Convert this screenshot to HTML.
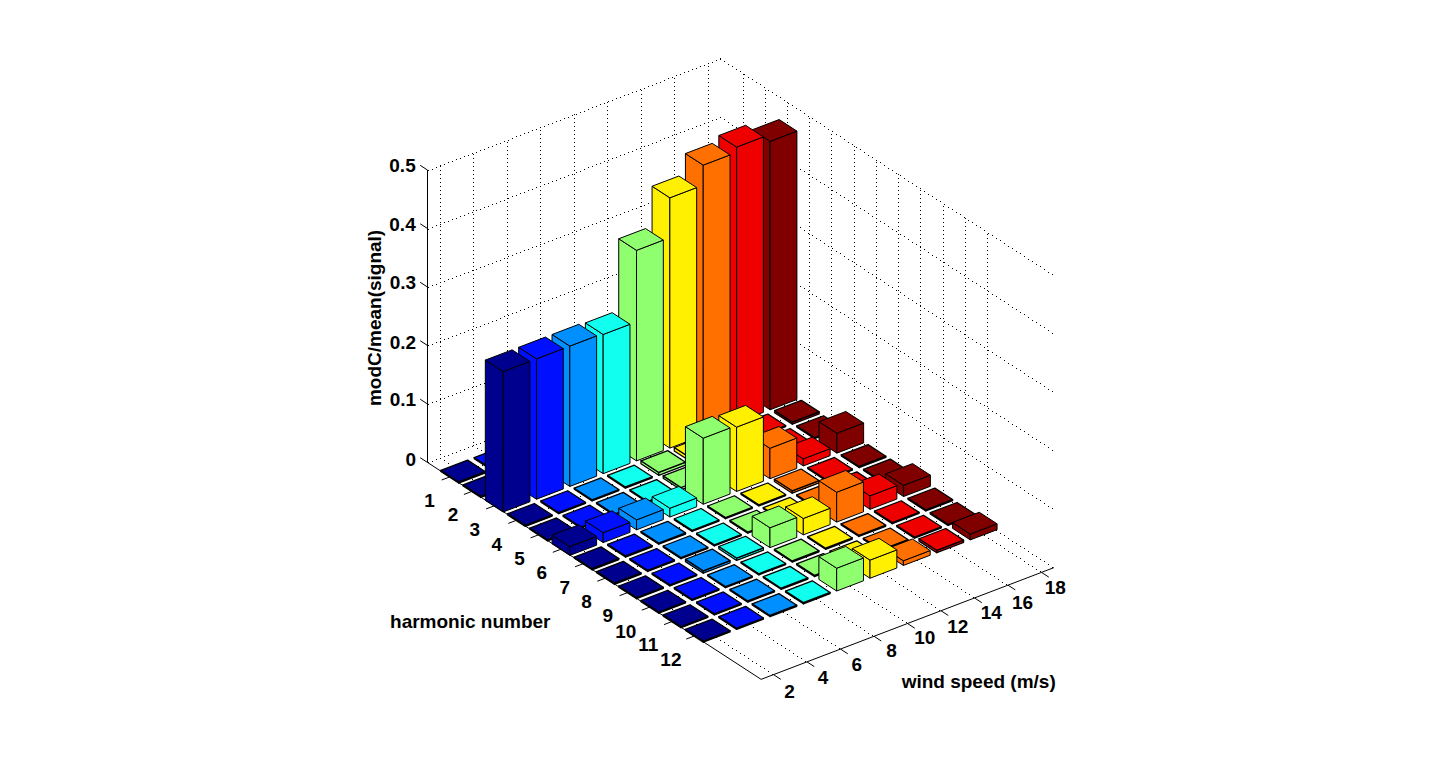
<!DOCTYPE html>
<html><head><meta charset="utf-8"><style>html,body{margin:0;padding:0;background:#fff;width:1432px;height:764px;overflow:hidden;position:relative}</style></head>
<body>
<svg width="1432" height="764" viewBox="0 0 1432 764" style="position:absolute;left:0;top:0">
<rect width="1432" height="764" fill="#fff"/>
<path d="M0 0m428 462h1v1h-1zm4-1h1v1h-1zm4-2h1v1h-1zm4-1h1v1h-1zm4-2h1v1h-1zm4-1h1v1h-1zm4-2h1v1h-1zm4-1h1v1h-1zm4-2h1v1h-1zm4-1h1v1h-1zm4-2h1v1h-1zm4-1h1v1h-1zm4-2h1v1h-1zm4-1h1v1h-1zm4-2h1v1h-1zm4-1h1v1h-1zm4-2h1v1h-1zm4-1h1v1h-1zm4-2h1v1h-1zm4-2h1v1h-1zm4-1h1v1h-1zm4-2h1v1h-1zm4-1h1v1h-1zm4-2h1v1h-1zm4-1h1v1h-1zm4-2h1v1h-1zm4-1h1v1h-1zm4-2h1v1h-1zm4-1h1v1h-1zm4-2h1v1h-1zm4-1h1v1h-1zm4-2h1v1h-1zm4-1h1v1h-1zm4-2h1v1h-1zm4-1h1v1h-1zm4-2h1v1h-1zm4-1h1v1h-1zm4-2h1v1h-1zm4-2h1v1h-1zm4-1h1v1h-1zm4-2h1v1h-1zm4-1h1v1h-1zm4-2h1v1h-1zm4-1h1v1h-1zm4-2h1v1h-1zm4-1h1v1h-1zm4-2h1v1h-1zm4-1h1v1h-1zm4-2h1v1h-1zm4-1h1v1h-1zm4-2h1v1h-1zm4-1h1v1h-1zm4-2h1v1h-1zm4-1h1v1h-1zm4-2h1v1h-1zm4-1h1v1h-1zm4-2h1v1h-1zm4-2h1v1h-1zm4-1h1v1h-1zm4-2h1v1h-1zm4-1h1v1h-1zm4-2h1v1h-1zm4-1h1v1h-1zm4-2h1v1h-1zm4-1h1v1h-1zm4-2h1v1h-1zm4-1h1v1h-1zm4-2h1v1h-1zm4-1h1v1h-1zm4-2h1v1h-1zm4-1h1v1h-1zm4-2h1v1h-1zm4-1h1v1h-1zm4-2h1v1h-1zm-292 53h1v1h-1zm4-2h1v1h-1zm4-1h1v1h-1zm4-2h1v1h-1zm4-1h1v1h-1zm4-2h1v1h-1zm4-1h1v1h-1zm4-2h1v1h-1zm4-1h1v1h-1zm4-2h1v1h-1zm4-1h1v1h-1zm4-2h1v1h-1zm4-1h1v1h-1zm4-2h1v1h-1zm4-1h1v1h-1zm4-2h1v1h-1zm4-1h1v1h-1zm4-2h1v1h-1zm4-1h1v1h-1zm4-2h1v1h-1zm4-2h1v1h-1zm4-1h1v1h-1zm4-2h1v1h-1zm4-1h1v1h-1zm4-2h1v1h-1zm4-1h1v1h-1zm4-2h1v1h-1zm4-1h1v1h-1zm4-2h1v1h-1zm4-1h1v1h-1zm4-2h1v1h-1zm4-1h1v1h-1zm4-2h1v1h-1zm4-1h1v1h-1zm4-2h1v1h-1zm4-1h1v1h-1zm4-2h1v1h-1zm4-1h1v1h-1zm4-2h1v1h-1zm4-2h1v1h-1zm4-1h1v1h-1zm4-2h1v1h-1zm4-1h1v1h-1zm4-2h1v1h-1zm4-1h1v1h-1zm4-2h1v1h-1zm4-1h1v1h-1zm4-2h1v1h-1zm4-1h1v1h-1zm4-2h1v1h-1zm4-1h1v1h-1zm4-2h1v1h-1zm4-1h1v1h-1zm4-2h1v1h-1zm4-1h1v1h-1zm4-2h1v1h-1zm4-1h1v1h-1zm4-2h1v1h-1zm4-2h1v1h-1zm4-1h1v1h-1zm4-2h1v1h-1zm4-1h1v1h-1zm4-2h1v1h-1zm4-1h1v1h-1zm4-2h1v1h-1zm4-1h1v1h-1zm4-2h1v1h-1zm4-1h1v1h-1zm4-2h1v1h-1zm4-1h1v1h-1zm4-2h1v1h-1zm4-1h1v1h-1zm4-2h1v1h-1zm4-1h1v1h-1zm-292 52h1v1h-1zm4-1h1v1h-1zm4-2h1v1h-1zm4-1h1v1h-1zm4-2h1v1h-1zm4-1h1v1h-1zm4-2h1v1h-1zm4-1h1v1h-1zm4-2h1v1h-1zm4-1h1v1h-1zm4-2h1v1h-1zm4-1h1v1h-1zm4-2h1v1h-1zm4-1h1v1h-1zm4-2h1v1h-1zm4-1h1v1h-1zm4-2h1v1h-1zm4-1h1v1h-1zm4-2h1v1h-1zm4-2h1v1h-1zm4-1h1v1h-1zm4-2h1v1h-1zm4-1h1v1h-1zm4-2h1v1h-1zm4-1h1v1h-1zm4-2h1v1h-1zm4-1h1v1h-1zm4-2h1v1h-1zm4-1h1v1h-1zm4-2h1v1h-1zm4-1h1v1h-1zm4-2h1v1h-1zm4-1h1v1h-1zm4-2h1v1h-1zm4-1h1v1h-1zm4-2h1v1h-1zm4-1h1v1h-1zm4-2h1v1h-1zm4-1h1v1h-1zm4-2h1v1h-1zm4-2h1v1h-1zm4-1h1v1h-1zm4-2h1v1h-1zm4-1h1v1h-1zm4-2h1v1h-1zm4-1h1v1h-1zm4-2h1v1h-1zm4-1h1v1h-1zm4-2h1v1h-1zm4-1h1v1h-1zm4-2h1v1h-1zm4-1h1v1h-1zm4-2h1v1h-1zm4-1h1v1h-1zm4-2h1v1h-1zm4-1h1v1h-1zm4-2h1v1h-1zm4-1h1v1h-1zm4-2h1v1h-1zm4-2h1v1h-1zm4-1h1v1h-1zm4-2h1v1h-1zm4-1h1v1h-1zm4-2h1v1h-1zm4-1h1v1h-1zm4-2h1v1h-1zm4-1h1v1h-1zm4-2h1v1h-1zm4-1h1v1h-1zm4-2h1v1h-1zm4-1h1v1h-1zm4-2h1v1h-1zm4-1h1v1h-1zm4-2h1v1h-1zm-292 53h1v1h-1zm4-2h1v1h-1zm4-1h1v1h-1zm4-2h1v1h-1zm4-1h1v1h-1zm4-2h1v1h-1zm4-1h1v1h-1zm4-2h1v1h-1zm4-1h1v1h-1zm4-2h1v1h-1zm4-1h1v1h-1zm4-2h1v1h-1zm4-1h1v1h-1zm4-2h1v1h-1zm4-1h1v1h-1zm4-2h1v1h-1zm4-1h1v1h-1zm4-2h1v1h-1zm4-1h1v1h-1zm4-2h1v1h-1zm4-2h1v1h-1zm4-1h1v1h-1zm4-2h1v1h-1zm4-1h1v1h-1zm4-2h1v1h-1zm4-1h1v1h-1zm4-2h1v1h-1zm4-1h1v1h-1zm4-2h1v1h-1zm4-1h1v1h-1zm4-2h1v1h-1zm4-1h1v1h-1zm4-2h1v1h-1zm4-1h1v1h-1zm4-2h1v1h-1zm4-1h1v1h-1zm4-2h1v1h-1zm4-1h1v1h-1zm4-2h1v1h-1zm4-2h1v1h-1zm4-1h1v1h-1zm4-2h1v1h-1zm4-1h1v1h-1zm4-2h1v1h-1zm4-1h1v1h-1zm4-2h1v1h-1zm4-1h1v1h-1zm4-2h1v1h-1zm4-1h1v1h-1zm4-2h1v1h-1zm4-1h1v1h-1zm4-2h1v1h-1zm4-1h1v1h-1zm4-2h1v1h-1zm4-1h1v1h-1zm4-2h1v1h-1zm4-1h1v1h-1zm4-2h1v1h-1zm4-1h1v1h-1zm4-2h1v1h-1zm4-2h1v1h-1zm4-1h1v1h-1zm4-2h1v1h-1zm4-1h1v1h-1zm4-2h1v1h-1zm4-1h1v1h-1zm4-2h1v1h-1zm4-1h1v1h-1zm4-2h1v1h-1zm4-1h1v1h-1zm4-2h1v1h-1zm4-1h1v1h-1zm4-2h1v1h-1zm4-1h1v1h-1zm-292 53h1v1h-1zm4-2h1v1h-1zm4-2h1v1h-1zm4-1h1v1h-1zm4-2h1v1h-1zm4-1h1v1h-1zm4-2h1v1h-1zm4-1h1v1h-1zm4-2h1v1h-1zm4-1h1v1h-1zm4-2h1v1h-1zm4-1h1v1h-1zm4-2h1v1h-1zm4-1h1v1h-1zm4-2h1v1h-1zm4-1h1v1h-1zm4-2h1v1h-1zm4-1h1v1h-1zm4-2h1v1h-1zm4-1h1v1h-1zm4-2h1v1h-1zm4-2h1v1h-1zm4-1h1v1h-1zm4-2h1v1h-1zm4-1h1v1h-1zm4-2h1v1h-1zm4-1h1v1h-1zm4-2h1v1h-1zm4-1h1v1h-1zm4-2h1v1h-1zm4-1h1v1h-1zm4-2h1v1h-1zm4-1h1v1h-1zm4-2h1v1h-1zm4-1h1v1h-1zm4-2h1v1h-1zm4-1h1v1h-1zm4-2h1v1h-1zm4-1h1v1h-1zm4-2h1v1h-1zm4-2h1v1h-1zm4-1h1v1h-1zm4-2h1v1h-1zm4-1h1v1h-1zm4-2h1v1h-1zm4-1h1v1h-1zm4-2h1v1h-1zm4-1h1v1h-1zm4-2h1v1h-1zm4-1h1v1h-1zm4-2h1v1h-1zm4-1h1v1h-1zm4-2h1v1h-1zm4-1h1v1h-1zm4-2h1v1h-1zm4-1h1v1h-1zm4-2h1v1h-1zm4-1h1v1h-1zm4-2h1v1h-1zm4-2h1v1h-1zm4-1h1v1h-1zm4-2h1v1h-1zm4-1h1v1h-1zm4-2h1v1h-1zm4-1h1v1h-1zm4-2h1v1h-1zm4-1h1v1h-1zm4-2h1v1h-1zm4-1h1v1h-1zm4-2h1v1h-1zm4-1h1v1h-1zm4-2h1v1h-1zm4-1h1v1h-1zm4-2h1v1h-1zm-292 53h1v1h-1zm4-1h1v1h-1zm4-2h1v1h-1zm4-2h1v1h-1zm4-1h1v1h-1zm4-2h1v1h-1zm4-1h1v1h-1zm4-2h1v1h-1zm4-1h1v1h-1zm4-2h1v1h-1zm4-1h1v1h-1zm4-2h1v1h-1zm4-1h1v1h-1zm4-2h1v1h-1zm4-1h1v1h-1zm4-2h1v1h-1zm4-1h1v1h-1zm4-2h1v1h-1zm4-1h1v1h-1zm4-2h1v1h-1zm4-1h1v1h-1zm4-2h1v1h-1zm4-2h1v1h-1zm4-1h1v1h-1zm4-2h1v1h-1zm4-1h1v1h-1zm4-2h1v1h-1zm4-1h1v1h-1zm4-2h1v1h-1zm4-1h1v1h-1zm4-2h1v1h-1zm4-1h1v1h-1zm4-2h1v1h-1zm4-1h1v1h-1zm4-2h1v1h-1zm4-1h1v1h-1zm4-2h1v1h-1zm4-1h1v1h-1zm4-2h1v1h-1zm4-1h1v1h-1zm4-2h1v1h-1zm4-2h1v1h-1zm4-1h1v1h-1zm4-2h1v1h-1zm4-1h1v1h-1zm4-2h1v1h-1zm4-1h1v1h-1zm4-2h1v1h-1zm4-1h1v1h-1zm4-2h1v1h-1zm4-1h1v1h-1zm4-2h1v1h-1zm4-1h1v1h-1zm4-2h1v1h-1zm4-1h1v1h-1zm4-2h1v1h-1zm4-1h1v1h-1zm4-2h1v1h-1zm4-1h1v1h-1zm4-2h1v1h-1zm4-2h1v1h-1zm4-1h1v1h-1zm4-2h1v1h-1zm4-1h1v1h-1zm4-2h1v1h-1zm4-1h1v1h-1zm4-2h1v1h-1zm4-1h1v1h-1zm4-2h1v1h-1zm4-1h1v1h-1zm4-2h1v1h-1zm4-1h1v1h-1zm4-2h1v1h-1zm4-1h1v1h-1zm4 294h1v1h-1zm4 3h1v1h-1zm4 3h1v1h-1zm4 2h1v1h-1zm4 3h1v1h-1zm4 2h1v1h-1zm4 3h1v1h-1zm4 3h1v1h-1zm4 2h1v1h-1zm4 3h1v1h-1zm4 2h1v1h-1zm4 3h1v1h-1zm4 3h1v1h-1zm4 2h1v1h-1zm4 3h1v1h-1zm4 2h1v1h-1zm4 3h1v1h-1zm4 3h1v1h-1zm4 2h1v1h-1zm4 3h1v1h-1zm4 2h1v1h-1zm4 3h1v1h-1zm4 3h1v1h-1zm4 2h1v1h-1zm4 3h1v1h-1zm4 2h1v1h-1zm4 3h1v1h-1zm4 3h1v1h-1zm4 2h1v1h-1zm4 3h1v1h-1zm4 2h1v1h-1zm4 3h1v1h-1zm4 3h1v1h-1zm4 2h1v1h-1zm4 3h1v1h-1zm4 2h1v1h-1zm4 3h1v1h-1zm4 3h1v1h-1zm4 2h1v1h-1zm4 3h1v1h-1zm4 2h1v1h-1zm4 3h1v1h-1zm4 3h1v1h-1zm4 2h1v1h-1zm4 3h1v1h-1zm4 2h1v1h-1zm4 3h1v1h-1zm4 3h1v1h-1zm4 2h1v1h-1zm4 3h1v1h-1zm4 2h1v1h-1zm4 3h1v1h-1zm4 3h1v1h-1zm4 2h1v1h-1zm4 3h1v1h-1zm4 2h1v1h-1zm4 3h1v1h-1zm4 3h1v1h-1zm4 2h1v1h-1zm4 3h1v1h-1zm4 2h1v1h-1zm4 3h1v1h-1zm4 3h1v1h-1zm4 2h1v1h-1zm4 3h1v1h-1zm4 2h1v1h-1zm4 3h1v1h-1zm4 3h1v1h-1zm4 2h1v1h-1zm4 3h1v1h-1zm4 2h1v1h-1zm4 3h1v1h-1zm4 3h1v1h-1zm4 2h1v1h-1zm4 3h1v1h-1zm4 2h1v1h-1zm4 3h1v1h-1zm4 3h1v1h-1zm4 2h1v1h-1zm4 3h1v1h-1zm4 2h1v1h-1zm4 3h1v1h-1zm4 3h1v1h-1zm-332-275h1v1h-1zm4 3h1v1h-1zm4 2h1v1h-1zm4 3h1v1h-1zm4 3h1v1h-1zm4 2h1v1h-1zm4 3h1v1h-1zm4 2h1v1h-1zm4 3h1v1h-1zm4 3h1v1h-1zm4 2h1v1h-1zm4 3h1v1h-1zm4 2h1v1h-1zm4 3h1v1h-1zm4 3h1v1h-1zm4 2h1v1h-1zm4 3h1v1h-1zm4 2h1v1h-1zm4 3h1v1h-1zm4 3h1v1h-1zm4 2h1v1h-1zm4 3h1v1h-1zm4 2h1v1h-1zm4 3h1v1h-1zm4 3h1v1h-1zm4 2h1v1h-1zm4 3h1v1h-1zm4 2h1v1h-1zm4 3h1v1h-1zm4 3h1v1h-1zm4 2h1v1h-1zm4 3h1v1h-1zm4 2h1v1h-1zm4 3h1v1h-1zm4 3h1v1h-1zm4 2h1v1h-1zm4 3h1v1h-1zm4 2h1v1h-1zm4 3h1v1h-1zm4 3h1v1h-1zm4 2h1v1h-1zm4 3h1v1h-1zm4 3h1v1h-1zm4 2h1v1h-1zm4 3h1v1h-1zm4 2h1v1h-1zm4 3h1v1h-1zm4 3h1v1h-1zm4 2h1v1h-1zm4 3h1v1h-1zm4 2h1v1h-1zm4 3h1v1h-1zm4 3h1v1h-1zm4 2h1v1h-1zm4 3h1v1h-1zm4 2h1v1h-1zm4 3h1v1h-1zm4 3h1v1h-1zm4 2h1v1h-1zm4 3h1v1h-1zm4 2h1v1h-1zm4 3h1v1h-1zm4 3h1v1h-1zm4 2h1v1h-1zm4 3h1v1h-1zm4 2h1v1h-1zm4 3h1v1h-1zm4 3h1v1h-1zm4 2h1v1h-1zm4 3h1v1h-1zm4 2h1v1h-1zm4 3h1v1h-1zm4 3h1v1h-1zm4 2h1v1h-1zm4 3h1v1h-1zm4 2h1v1h-1zm4 3h1v1h-1zm4 3h1v1h-1zm4 2h1v1h-1zm4 3h1v1h-1zm4 2h1v1h-1zm4 3h1v1h-1zm4 3h1v1h-1zm4 2h1v1h-1zm-328-272h1v1h-1zm4 3h1v1h-1zm4 3h1v1h-1zm4 2h1v1h-1zm4 3h1v1h-1zm4 2h1v1h-1zm4 3h1v1h-1zm4 3h1v1h-1zm4 2h1v1h-1zm4 3h1v1h-1zm4 2h1v1h-1zm4 3h1v1h-1zm4 3h1v1h-1zm4 2h1v1h-1zm4 3h1v1h-1zm4 2h1v1h-1zm4 3h1v1h-1zm4 3h1v1h-1zm4 2h1v1h-1zm4 3h1v1h-1zm4 2h1v1h-1zm4 3h1v1h-1zm4 3h1v1h-1zm4 2h1v1h-1zm4 3h1v1h-1zm4 2h1v1h-1zm4 3h1v1h-1zm4 3h1v1h-1zm4 2h1v1h-1zm4 3h1v1h-1zm4 2h1v1h-1zm4 3h1v1h-1zm4 3h1v1h-1zm4 2h1v1h-1zm4 3h1v1h-1zm4 2h1v1h-1zm4 3h1v1h-1zm4 3h1v1h-1zm4 2h1v1h-1zm4 3h1v1h-1zm4 2h1v1h-1zm4 3h1v1h-1zm4 3h1v1h-1zm4 2h1v1h-1zm4 3h1v1h-1zm4 2h1v1h-1zm4 3h1v1h-1zm4 3h1v1h-1zm4 2h1v1h-1zm4 3h1v1h-1zm4 2h1v1h-1zm4 3h1v1h-1zm4 3h1v1h-1zm4 2h1v1h-1zm4 3h1v1h-1zm4 2h1v1h-1zm4 3h1v1h-1zm4 3h1v1h-1zm4 2h1v1h-1zm4 3h1v1h-1zm4 2h1v1h-1zm4 3h1v1h-1zm4 3h1v1h-1zm4 2h1v1h-1zm4 3h1v1h-1zm4 2h1v1h-1zm4 3h1v1h-1zm4 3h1v1h-1zm4 2h1v1h-1zm4 3h1v1h-1zm4 2h1v1h-1zm4 3h1v1h-1zm4 3h1v1h-1zm4 2h1v1h-1zm4 3h1v1h-1zm4 2h1v1h-1zm4 3h1v1h-1zm4 3h1v1h-1zm4 2h1v1h-1zm4 3h1v1h-1zm4 2h1v1h-1zm4 3h1v1h-1zm4 3h1v1h-1zm-332-275h1v1h-1zm4 3h1v1h-1zm4 3h1v1h-1zm4 2h1v1h-1zm4 3h1v1h-1zm4 2h1v1h-1zm4 3h1v1h-1zm4 3h1v1h-1zm4 2h1v1h-1zm4 3h1v1h-1zm4 2h1v1h-1zm4 3h1v1h-1zm4 3h1v1h-1zm4 2h1v1h-1zm4 3h1v1h-1zm4 2h1v1h-1zm4 3h1v1h-1zm4 3h1v1h-1zm4 2h1v1h-1zm4 3h1v1h-1zm4 2h1v1h-1zm4 3h1v1h-1zm4 3h1v1h-1zm4 2h1v1h-1zm4 3h1v1h-1zm4 2h1v1h-1zm4 3h1v1h-1zm4 3h1v1h-1zm4 2h1v1h-1zm4 3h1v1h-1zm4 2h1v1h-1zm4 3h1v1h-1zm4 3h1v1h-1zm4 2h1v1h-1zm4 3h1v1h-1zm4 2h1v1h-1zm4 3h1v1h-1zm4 3h1v1h-1zm4 2h1v1h-1zm4 3h1v1h-1zm4 2h1v1h-1zm4 3h1v1h-1zm4 3h1v1h-1zm4 2h1v1h-1zm4 3h1v1h-1zm4 2h1v1h-1zm4 3h1v1h-1zm4 3h1v1h-1zm4 2h1v1h-1zm4 3h1v1h-1zm4 2h1v1h-1zm4 3h1v1h-1zm4 3h1v1h-1zm4 2h1v1h-1zm4 3h1v1h-1zm4 2h1v1h-1zm4 3h1v1h-1zm4 3h1v1h-1zm4 2h1v1h-1zm4 3h1v1h-1zm4 2h1v1h-1zm4 3h1v1h-1zm4 3h1v1h-1zm4 2h1v1h-1zm4 3h1v1h-1zm4 2h1v1h-1zm4 3h1v1h-1zm4 3h1v1h-1zm4 2h1v1h-1zm4 3h1v1h-1zm4 2h1v1h-1zm4 3h1v1h-1zm4 3h1v1h-1zm4 2h1v1h-1zm4 3h1v1h-1zm4 2h1v1h-1zm4 3h1v1h-1zm4 3h1v1h-1zm4 2h1v1h-1zm4 3h1v1h-1zm4 2h1v1h-1zm4 3h1v1h-1zm4 3h1v1h-1zm4 2h1v1h-1zm-328-272h1v1h-1zm4 3h1v1h-1zm4 3h1v1h-1zm4 2h1v1h-1zm4 3h1v1h-1zm4 2h1v1h-1zm4 3h1v1h-1zm4 3h1v1h-1zm4 2h1v1h-1zm4 3h1v1h-1zm4 2h1v1h-1zm4 3h1v1h-1zm4 3h1v1h-1zm4 2h1v1h-1zm4 3h1v1h-1zm4 2h1v1h-1zm4 3h1v1h-1zm4 3h1v1h-1zm4 2h1v1h-1zm4 3h1v1h-1zm4 2h1v1h-1zm4 3h1v1h-1zm4 3h1v1h-1zm4 2h1v1h-1zm4 3h1v1h-1zm4 2h1v1h-1zm4 3h1v1h-1zm4 3h1v1h-1zm4 2h1v1h-1zm4 3h1v1h-1zm4 2h1v1h-1zm4 3h1v1h-1zm4 3h1v1h-1zm4 2h1v1h-1zm4 3h1v1h-1zm4 2h1v1h-1zm4 3h1v1h-1zm4 3h1v1h-1zm4 2h1v1h-1zm4 3h1v1h-1zm4 2h1v1h-1zm4 3h1v1h-1zm4 3h1v1h-1zm4 2h1v1h-1zm4 3h1v1h-1zm4 2h1v1h-1zm4 3h1v1h-1zm4 3h1v1h-1zm4 2h1v1h-1zm4 3h1v1h-1zm4 2h1v1h-1zm4 3h1v1h-1zm4 3h1v1h-1zm4 2h1v1h-1zm4 3h1v1h-1zm4 2h1v1h-1zm4 3h1v1h-1zm4 3h1v1h-1zm4 2h1v1h-1zm4 3h1v1h-1zm4 2h1v1h-1zm4 3h1v1h-1zm4 3h1v1h-1zm4 2h1v1h-1zm4 3h1v1h-1zm4 2h1v1h-1zm4 3h1v1h-1zm4 3h1v1h-1zm4 2h1v1h-1zm4 3h1v1h-1zm4 2h1v1h-1zm4 3h1v1h-1zm4 3h1v1h-1zm4 2h1v1h-1zm4 3h1v1h-1zm4 2h1v1h-1zm4 3h1v1h-1zm4 3h1v1h-1zm4 2h1v1h-1zm4 3h1v1h-1zm4 2h1v1h-1zm4 3h1v1h-1zm4 3h1v1h-1zm-332-275h1v1h-1zm4 3h1v1h-1zm4 3h1v1h-1zm4 2h1v1h-1zm4 3h1v1h-1zm4 2h1v1h-1zm4 3h1v1h-1zm4 3h1v1h-1zm4 2h1v1h-1zm4 3h1v1h-1zm4 2h1v1h-1zm4 3h1v1h-1zm4 3h1v1h-1zm4 2h1v1h-1zm4 3h1v1h-1zm4 2h1v1h-1zm4 3h1v1h-1zm4 3h1v1h-1zm4 2h1v1h-1zm4 3h1v1h-1zm4 2h1v1h-1zm4 3h1v1h-1zm4 3h1v1h-1zm4 2h1v1h-1zm4 3h1v1h-1zm4 2h1v1h-1zm4 3h1v1h-1zm4 3h1v1h-1zm4 2h1v1h-1zm4 3h1v1h-1zm4 2h1v1h-1zm4 3h1v1h-1zm4 3h1v1h-1zm4 2h1v1h-1zm4 3h1v1h-1zm4 2h1v1h-1zm4 3h1v1h-1zm4 3h1v1h-1zm4 2h1v1h-1zm4 3h1v1h-1zm4 2h1v1h-1zm4 3h1v1h-1zm4 3h1v1h-1zm4 2h1v1h-1zm4 3h1v1h-1zm4 2h1v1h-1zm4 3h1v1h-1zm4 3h1v1h-1zm4 2h1v1h-1zm4 3h1v1h-1zm4 2h1v1h-1zm4 3h1v1h-1zm4 3h1v1h-1zm4 2h1v1h-1zm4 3h1v1h-1zm4 2h1v1h-1zm4 3h1v1h-1zm4 3h1v1h-1zm4 2h1v1h-1zm4 3h1v1h-1zm4 2h1v1h-1zm4 3h1v1h-1zm4 3h1v1h-1zm4 2h1v1h-1zm4 3h1v1h-1zm4 2h1v1h-1zm4 3h1v1h-1zm4 3h1v1h-1zm4 2h1v1h-1zm4 3h1v1h-1zm4 2h1v1h-1zm4 3h1v1h-1zm4 3h1v1h-1zm4 2h1v1h-1zm4 3h1v1h-1zm4 2h1v1h-1zm4 3h1v1h-1zm4 3h1v1h-1zm4 2h1v1h-1zm4 3h1v1h-1zm4 2h1v1h-1zm4 3h1v1h-1zm4 3h1v1h-1zm4 2h1v1h-1zm-608 186h1v1h-1zm4 3h1v1h-1zm4 3h1v1h-1zm4 2h1v1h-1zm4 3h1v1h-1zm4 2h1v1h-1zm4 3h1v1h-1zm4 3h1v1h-1zm4 2h1v1h-1zm4 3h1v1h-1zm4 2h1v1h-1zm4 3h1v1h-1zm4 3h1v1h-1zm4 2h1v1h-1zm4 3h1v1h-1zm4 2h1v1h-1zm4 3h1v1h-1zm4 3h1v1h-1zm4 2h1v1h-1zm4 3h1v1h-1zm4 2h1v1h-1zm4 3h1v1h-1zm4 3h1v1h-1zm4 2h1v1h-1zm4 3h1v1h-1zm4 2h1v1h-1zm4 3h1v1h-1zm4 3h1v1h-1zm4 2h1v1h-1zm4 3h1v1h-1zm4 2h1v1h-1zm4 3h1v1h-1zm4 3h1v1h-1zm4 2h1v1h-1zm4 3h1v1h-1zm4 2h1v1h-1zm4 3h1v1h-1zm4 3h1v1h-1zm4 2h1v1h-1zm4 3h1v1h-1zm4 2h1v1h-1zm4 3h1v1h-1zm4 3h1v1h-1zm4 2h1v1h-1zm4 3h1v1h-1zm4 2h1v1h-1zm4 3h1v1h-1zm4 3h1v1h-1zm4 2h1v1h-1zm4 3h1v1h-1zm4 2h1v1h-1zm4 3h1v1h-1zm4 3h1v1h-1zm4 2h1v1h-1zm4 3h1v1h-1zm4 2h1v1h-1zm4 3h1v1h-1zm4 3h1v1h-1zm4 2h1v1h-1zm4 3h1v1h-1zm4 2h1v1h-1zm4 3h1v1h-1zm4 3h1v1h-1zm4 2h1v1h-1zm4 3h1v1h-1zm4 2h1v1h-1zm4 3h1v1h-1zm4 3h1v1h-1zm4 2h1v1h-1zm4 3h1v1h-1zm4 2h1v1h-1zm4 3h1v1h-1zm4 3h1v1h-1zm4 2h1v1h-1zm4 3h1v1h-1zm4 2h1v1h-1zm4 3h1v1h-1zm4 3h1v1h-1zm4 2h1v1h-1zm4 3h1v1h-1zm4 2h1v1h-1zm4 3h1v1h-1zm4 3h1v1h-1zm-299-229h1v1h-1zm4 3h1v1h-1zm4 2h1v1h-1zm4 3h1v1h-1zm4 2h1v1h-1zm4 3h1v1h-1zm4 3h1v1h-1zm4 2h1v1h-1zm4 3h1v1h-1zm4 2h1v1h-1zm4 3h1v1h-1zm4 3h1v1h-1zm4 2h1v1h-1zm4 3h1v1h-1zm4 2h1v1h-1zm4 3h1v1h-1zm4 3h1v1h-1zm4 2h1v1h-1zm4 3h1v1h-1zm4 2h1v1h-1zm4 3h1v1h-1zm4 3h1v1h-1zm4 2h1v1h-1zm4 3h1v1h-1zm4 2h1v1h-1zm4 3h1v1h-1zm4 3h1v1h-1zm4 2h1v1h-1zm4 3h1v1h-1zm4 2h1v1h-1zm4 3h1v1h-1zm4 3h1v1h-1zm4 2h1v1h-1zm4 3h1v1h-1zm4 2h1v1h-1zm4 3h1v1h-1zm4 3h1v1h-1zm4 2h1v1h-1zm4 3h1v1h-1zm4 2h1v1h-1zm4 3h1v1h-1zm4 3h1v1h-1zm4 2h1v1h-1zm4 3h1v1h-1zm4 2h1v1h-1zm4 3h1v1h-1zm4 3h1v1h-1zm4 2h1v1h-1zm4 3h1v1h-1zm4 2h1v1h-1zm4 3h1v1h-1zm4 3h1v1h-1zm4 2h1v1h-1zm4 3h1v1h-1zm4 2h1v1h-1zm4 3h1v1h-1zm4 3h1v1h-1zm4 2h1v1h-1zm4 3h1v1h-1zm4 2h1v1h-1zm4 3h1v1h-1zm4 3h1v1h-1zm4 2h1v1h-1zm4 3h1v1h-1zm4 2h1v1h-1zm4 3h1v1h-1zm4 3h1v1h-1zm4 2h1v1h-1zm4 3h1v1h-1zm4 2h1v1h-1zm4 3h1v1h-1zm4 3h1v1h-1zm4 2h1v1h-1zm4 3h1v1h-1zm4 2h1v1h-1zm4 3h1v1h-1zm4 3h1v1h-1zm4 2h1v1h-1zm4 3h1v1h-1zm4 2h1v1h-1zm4 3h1v1h-1zm4 3h1v1h-1zm4 2h1v1h-1zm4 3h1v1h-1zm-298-229h1v1h-1zm4 3h1v1h-1zm4 2h1v1h-1zm4 3h1v1h-1zm4 3h1v1h-1zm4 2h1v1h-1zm4 3h1v1h-1zm4 2h1v1h-1zm4 3h1v1h-1zm4 3h1v1h-1zm4 2h1v1h-1zm4 3h1v1h-1zm4 2h1v1h-1zm4 3h1v1h-1zm4 3h1v1h-1zm4 2h1v1h-1zm4 3h1v1h-1zm4 2h1v1h-1zm4 3h1v1h-1zm4 3h1v1h-1zm4 2h1v1h-1zm4 3h1v1h-1zm4 2h1v1h-1zm4 3h1v1h-1zm4 3h1v1h-1zm4 2h1v1h-1zm4 3h1v1h-1zm4 2h1v1h-1zm4 3h1v1h-1zm4 3h1v1h-1zm4 2h1v1h-1zm4 3h1v1h-1zm4 2h1v1h-1zm4 3h1v1h-1zm4 3h1v1h-1zm4 2h1v1h-1zm4 3h1v1h-1zm4 2h1v1h-1zm4 3h1v1h-1zm4 3h1v1h-1zm4 2h1v1h-1zm4 3h1v1h-1zm4 2h1v1h-1zm4 3h1v1h-1zm4 3h1v1h-1zm4 2h1v1h-1zm4 3h1v1h-1zm4 2h1v1h-1zm4 3h1v1h-1zm4 3h1v1h-1zm4 2h1v1h-1zm4 3h1v1h-1zm4 2h1v1h-1zm4 3h1v1h-1zm4 3h1v1h-1zm4 2h1v1h-1zm4 3h1v1h-1zm4 2h1v1h-1zm4 3h1v1h-1zm4 3h1v1h-1zm4 2h1v1h-1zm4 3h1v1h-1zm4 2h1v1h-1zm4 3h1v1h-1zm4 3h1v1h-1zm4 2h1v1h-1zm4 3h1v1h-1zm4 2h1v1h-1zm4 3h1v1h-1zm4 3h1v1h-1zm4 2h1v1h-1zm4 3h1v1h-1zm4 2h1v1h-1zm4 3h1v1h-1zm4 3h1v1h-1zm4 2h1v1h-1zm4 3h1v1h-1zm4 2h1v1h-1zm4 3h1v1h-1zm4 3h1v1h-1zm4 2h1v1h-1zm4 3h1v1h-1zm4 2h1v1h-1zm4 3h1v1h-1zm-299-229h1v1h-1zm4 3h1v1h-1zm4 3h1v1h-1zm4 2h1v1h-1zm4 3h1v1h-1zm4 2h1v1h-1zm4 3h1v1h-1zm4 3h1v1h-1zm4 2h1v1h-1zm4 3h1v1h-1zm4 2h1v1h-1zm4 3h1v1h-1zm4 3h1v1h-1zm4 2h1v1h-1zm4 3h1v1h-1zm4 2h1v1h-1zm4 3h1v1h-1zm4 3h1v1h-1zm4 2h1v1h-1zm4 3h1v1h-1zm4 2h1v1h-1zm4 3h1v1h-1zm4 3h1v1h-1zm4 2h1v1h-1zm4 3h1v1h-1zm4 2h1v1h-1zm4 3h1v1h-1zm4 3h1v1h-1zm4 2h1v1h-1zm4 3h1v1h-1zm4 2h1v1h-1zm4 3h1v1h-1zm4 3h1v1h-1zm4 2h1v1h-1zm4 3h1v1h-1zm4 2h1v1h-1zm4 3h1v1h-1zm4 3h1v1h-1zm4 2h1v1h-1zm4 3h1v1h-1zm4 2h1v1h-1zm4 3h1v1h-1zm4 3h1v1h-1zm4 2h1v1h-1zm4 3h1v1h-1zm4 2h1v1h-1zm4 3h1v1h-1zm4 3h1v1h-1zm4 2h1v1h-1zm4 3h1v1h-1zm4 2h1v1h-1zm4 3h1v1h-1zm4 3h1v1h-1zm4 2h1v1h-1zm4 3h1v1h-1zm4 2h1v1h-1zm4 3h1v1h-1zm4 3h1v1h-1zm4 2h1v1h-1zm4 3h1v1h-1zm4 2h1v1h-1zm4 3h1v1h-1zm4 3h1v1h-1zm4 2h1v1h-1zm4 3h1v1h-1zm4 2h1v1h-1zm4 3h1v1h-1zm4 3h1v1h-1zm4 2h1v1h-1zm4 3h1v1h-1zm4 2h1v1h-1zm4 3h1v1h-1zm4 3h1v1h-1zm4 2h1v1h-1zm4 3h1v1h-1zm4 2h1v1h-1zm4 3h1v1h-1zm4 3h1v1h-1zm4 2h1v1h-1zm4 3h1v1h-1zm4 2h1v1h-1zm4 3h1v1h-1zm4 3h1v1h-1zm4 2h1v1h-1zm-298-228h1v1h-1zm4 2h1v1h-1zm4 3h1v1h-1zm4 2h1v1h-1zm4 3h1v1h-1zm4 3h1v1h-1zm4 2h1v1h-1zm4 3h1v1h-1zm4 2h1v1h-1zm4 3h1v1h-1zm4 3h1v1h-1zm4 2h1v1h-1zm4 3h1v1h-1zm4 2h1v1h-1zm4 3h1v1h-1zm4 3h1v1h-1zm4 2h1v1h-1zm4 3h1v1h-1zm4 2h1v1h-1zm4 3h1v1h-1zm4 3h1v1h-1zm4 2h1v1h-1zm4 3h1v1h-1zm4 2h1v1h-1zm4 3h1v1h-1zm4 3h1v1h-1zm4 2h1v1h-1zm4 3h1v1h-1zm4 2h1v1h-1zm4 3h1v1h-1zm4 3h1v1h-1zm4 2h1v1h-1zm4 3h1v1h-1zm4 2h1v1h-1zm4 3h1v1h-1zm4 3h1v1h-1zm4 2h1v1h-1zm4 3h1v1h-1zm4 2h1v1h-1zm4 3h1v1h-1zm4 3h1v1h-1zm4 2h1v1h-1zm4 3h1v1h-1zm4 2h1v1h-1zm4 3h1v1h-1zm4 3h1v1h-1zm4 2h1v1h-1zm4 3h1v1h-1zm4 2h1v1h-1zm4 3h1v1h-1zm4 3h1v1h-1zm4 2h1v1h-1zm4 3h1v1h-1zm4 2h1v1h-1zm4 3h1v1h-1zm4 3h1v1h-1zm4 2h1v1h-1zm4 3h1v1h-1zm4 2h1v1h-1zm4 3h1v1h-1zm4 3h1v1h-1zm4 2h1v1h-1zm4 3h1v1h-1zm4 2h1v1h-1zm4 3h1v1h-1zm4 3h1v1h-1zm4 2h1v1h-1zm4 3h1v1h-1zm4 2h1v1h-1zm4 3h1v1h-1zm4 3h1v1h-1zm4 2h1v1h-1zm4 3h1v1h-1zm4 2h1v1h-1zm4 3h1v1h-1zm4 3h1v1h-1zm4 2h1v1h-1zm4 3h1v1h-1zm4 2h1v1h-1zm4 3h1v1h-1zm4 3h1v1h-1zm4 2h1v1h-1zm4 3h1v1h-1zm4 2h1v1h-1zm-299-228h1v1h-1zm4 2h1v1h-1zm4 3h1v1h-1zm4 3h1v1h-1zm4 2h1v1h-1zm4 3h1v1h-1zm4 2h1v1h-1zm4 3h1v1h-1zm4 3h1v1h-1zm4 2h1v1h-1zm4 3h1v1h-1zm4 2h1v1h-1zm4 3h1v1h-1zm4 3h1v1h-1zm4 2h1v1h-1zm4 3h1v1h-1zm4 2h1v1h-1zm4 3h1v1h-1zm4 3h1v1h-1zm4 2h1v1h-1zm4 3h1v1h-1zm4 2h1v1h-1zm4 3h1v1h-1zm4 3h1v1h-1zm4 2h1v1h-1zm4 3h1v1h-1zm4 2h1v1h-1zm4 3h1v1h-1zm4 3h1v1h-1zm4 2h1v1h-1zm4 3h1v1h-1zm4 2h1v1h-1zm4 3h1v1h-1zm4 3h1v1h-1zm4 2h1v1h-1zm4 3h1v1h-1zm4 2h1v1h-1zm4 3h1v1h-1zm4 3h1v1h-1zm4 2h1v1h-1zm4 3h1v1h-1zm4 2h1v1h-1zm4 3h1v1h-1zm4 3h1v1h-1zm4 2h1v1h-1zm4 3h1v1h-1zm4 2h1v1h-1zm4 3h1v1h-1zm4 3h1v1h-1zm4 2h1v1h-1zm4 3h1v1h-1zm4 2h1v1h-1zm4 3h1v1h-1zm4 3h1v1h-1zm4 2h1v1h-1zm4 3h1v1h-1zm4 2h1v1h-1zm4 3h1v1h-1zm4 3h1v1h-1zm4 2h1v1h-1zm4 3h1v1h-1zm4 2h1v1h-1zm4 3h1v1h-1zm4 3h1v1h-1zm4 2h1v1h-1zm4 3h1v1h-1zm4 2h1v1h-1zm4 3h1v1h-1zm4 3h1v1h-1zm4 2h1v1h-1zm4 3h1v1h-1zm4 2h1v1h-1zm4 3h1v1h-1zm4 3h1v1h-1zm4 2h1v1h-1zm4 3h1v1h-1zm4 2h1v1h-1zm4 3h1v1h-1zm4 3h1v1h-1zm4 2h1v1h-1zm4 3h1v1h-1zm4 2h1v1h-1zm4 3h1v1h-1zm4 3h1v1h-1zm-298-229h1v1h-1zm4 3h1v1h-1zm4 2h1v1h-1zm4 3h1v1h-1zm4 2h1v1h-1zm4 3h1v1h-1zm4 3h1v1h-1zm4 2h1v1h-1zm4 3h1v1h-1zm4 2h1v1h-1zm4 3h1v1h-1zm4 3h1v1h-1zm4 2h1v1h-1zm4 3h1v1h-1zm4 2h1v1h-1zm4 3h1v1h-1zm4 3h1v1h-1zm4 2h1v1h-1zm4 3h1v1h-1zm4 2h1v1h-1zm4 3h1v1h-1zm4 3h1v1h-1zm4 2h1v1h-1zm4 3h1v1h-1zm4 2h1v1h-1zm4 3h1v1h-1zm4 3h1v1h-1zm4 2h1v1h-1zm4 3h1v1h-1zm4 2h1v1h-1zm4 3h1v1h-1zm4 3h1v1h-1zm4 2h1v1h-1zm4 3h1v1h-1zm4 2h1v1h-1zm4 3h1v1h-1zm4 3h1v1h-1zm4 2h1v1h-1zm4 3h1v1h-1zm4 2h1v1h-1zm4 3h1v1h-1zm4 3h1v1h-1zm4 2h1v1h-1zm4 3h1v1h-1zm4 2h1v1h-1zm4 3h1v1h-1zm4 3h1v1h-1zm4 2h1v1h-1zm4 3h1v1h-1zm4 2h1v1h-1zm4 3h1v1h-1zm4 3h1v1h-1zm4 2h1v1h-1zm4 3h1v1h-1zm4 2h1v1h-1zm4 3h1v1h-1zm4 3h1v1h-1zm4 2h1v1h-1zm4 3h1v1h-1zm4 2h1v1h-1zm4 3h1v1h-1zm4 3h1v1h-1zm4 2h1v1h-1zm4 3h1v1h-1zm4 2h1v1h-1zm4 3h1v1h-1zm4 3h1v1h-1zm4 2h1v1h-1zm4 3h1v1h-1zm4 2h1v1h-1zm4 3h1v1h-1zm4 3h1v1h-1zm4 2h1v1h-1zm4 3h1v1h-1zm4 2h1v1h-1zm4 3h1v1h-1zm4 3h1v1h-1zm4 2h1v1h-1zm4 3h1v1h-1zm4 2h1v1h-1zm4 3h1v1h-1zm4 3h1v1h-1zm4 2h1v1h-1zm4 3h1v1h-1zm-299-229h1v1h-1zm4 3h1v1h-1zm4 2h1v1h-1zm4 3h1v1h-1zm4 3h1v1h-1zm4 2h1v1h-1zm4 3h1v1h-1zm4 2h1v1h-1zm4 3h1v1h-1zm4 3h1v1h-1zm4 2h1v1h-1zm4 3h1v1h-1zm4 2h1v1h-1zm4 3h1v1h-1zm4 3h1v1h-1zm4 2h1v1h-1zm4 3h1v1h-1zm4 2h1v1h-1zm4 3h1v1h-1zm4 3h1v1h-1zm4 2h1v1h-1zm4 3h1v1h-1zm4 2h1v1h-1zm4 3h1v1h-1zm4 3h1v1h-1zm4 2h1v1h-1zm4 3h1v1h-1zm4 2h1v1h-1zm4 3h1v1h-1zm4 3h1v1h-1zm4 2h1v1h-1zm4 3h1v1h-1zm4 2h1v1h-1zm4 3h1v1h-1zm4 3h1v1h-1zm4 2h1v1h-1zm4 3h1v1h-1zm4 2h1v1h-1zm4 3h1v1h-1zm4 3h1v1h-1zm4 2h1v1h-1zm4 3h1v1h-1zm4 2h1v1h-1zm4 3h1v1h-1zm4 3h1v1h-1zm4 2h1v1h-1zm4 3h1v1h-1zm4 2h1v1h-1zm4 3h1v1h-1zm4 3h1v1h-1zm4 2h1v1h-1zm4 3h1v1h-1zm4 2h1v1h-1zm4 3h1v1h-1zm4 3h1v1h-1zm4 2h1v1h-1zm4 3h1v1h-1zm4 3h1v1h-1zm4 2h1v1h-1zm4 3h1v1h-1zm4 2h1v1h-1zm4 3h1v1h-1zm4 3h1v1h-1zm4 2h1v1h-1zm4 3h1v1h-1zm4 2h1v1h-1zm4 3h1v1h-1zm4 3h1v1h-1zm4 2h1v1h-1zm4 3h1v1h-1zm4 2h1v1h-1zm4 3h1v1h-1zm4 3h1v1h-1zm4 2h1v1h-1zm4 3h1v1h-1zm4 2h1v1h-1zm4 3h1v1h-1zm4 3h1v1h-1zm4 2h1v1h-1zm4 3h1v1h-1zm4 2h1v1h-1zm4 3h1v1h-1zm4 3h1v1h-1zm4 2h1v1h-1zm-298-229h1v1h-1zm4 3h1v1h-1zm4 3h1v1h-1zm4 2h1v1h-1zm4 3h1v1h-1zm4 2h1v1h-1zm4 3h1v1h-1zm4 3h1v1h-1zm4 2h1v1h-1zm4 3h1v1h-1zm4 2h1v1h-1zm4 3h1v1h-1zm4 3h1v1h-1zm4 2h1v1h-1zm4 3h1v1h-1zm4 2h1v1h-1zm4 3h1v1h-1zm4 3h1v1h-1zm4 2h1v1h-1zm4 3h1v1h-1zm4 2h1v1h-1zm4 3h1v1h-1zm4 3h1v1h-1zm4 2h1v1h-1zm4 3h1v1h-1zm4 2h1v1h-1zm4 3h1v1h-1zm4 3h1v1h-1zm4 2h1v1h-1zm4 3h1v1h-1zm4 3h1v1h-1zm4 2h1v1h-1zm4 3h1v1h-1zm4 2h1v1h-1zm4 3h1v1h-1zm4 3h1v1h-1zm4 2h1v1h-1zm4 3h1v1h-1zm4 2h1v1h-1zm4 3h1v1h-1zm4 3h1v1h-1zm4 2h1v1h-1zm4 3h1v1h-1zm4 2h1v1h-1zm4 3h1v1h-1zm4 3h1v1h-1zm4 2h1v1h-1zm4 3h1v1h-1zm4 2h1v1h-1zm4 3h1v1h-1zm4 3h1v1h-1zm4 2h1v1h-1zm4 3h1v1h-1zm4 2h1v1h-1zm4 3h1v1h-1zm4 3h1v1h-1zm4 2h1v1h-1zm4 3h1v1h-1zm4 2h1v1h-1zm4 3h1v1h-1zm4 3h1v1h-1zm4 2h1v1h-1zm4 3h1v1h-1zm4 2h1v1h-1zm4 3h1v1h-1zm4 3h1v1h-1zm4 2h1v1h-1zm4 3h1v1h-1zm4 2h1v1h-1zm4 3h1v1h-1zm4 3h1v1h-1zm4 2h1v1h-1zm4 3h1v1h-1zm4 2h1v1h-1zm4 3h1v1h-1zm4 3h1v1h-1zm4 2h1v1h-1zm4 3h1v1h-1zm4 2h1v1h-1zm4 3h1v1h-1zm4 3h1v1h-1zm4 2h1v1h-1zm4 3h1v1h-1zm4 2h1v1h-1zm-590-94h1v1h-1zm4-2h1v1h-1zm4-1h1v1h-1zm4-2h1v1h-1zm4-1h1v1h-1zm4-2h1v1h-1zm4-1h1v1h-1zm4-2h1v1h-1zm4-1h1v1h-1zm4-2h1v1h-1zm4-1h1v1h-1zm4-2h1v1h-1zm4-1h1v1h-1zm4-2h1v1h-1zm4-1h1v1h-1zm4-2h1v1h-1zm4-2h1v1h-1zm4-1h1v1h-1zm4-2h1v1h-1zm4-1h1v1h-1zm4-2h1v1h-1zm4-1h1v1h-1zm4-2h1v1h-1zm4-1h1v1h-1zm4-2h1v1h-1zm4-1h1v1h-1zm4-2h1v1h-1zm4-1h1v1h-1zm4-2h1v1h-1zm4-1h1v1h-1zm4-2h1v1h-1zm4-1h1v1h-1zm4-2h1v1h-1zm4-1h1v1h-1zm4-2h1v1h-1zm4-2h1v1h-1zm4-1h1v1h-1zm4-2h1v1h-1zm4-1h1v1h-1zm4-2h1v1h-1zm4-1h1v1h-1zm4-2h1v1h-1zm4-1h1v1h-1zm4-2h1v1h-1zm4-1h1v1h-1zm4-2h1v1h-1zm4-1h1v1h-1zm4-2h1v1h-1zm4-1h1v1h-1zm4-2h1v1h-1zm4-1h1v1h-1zm4-2h1v1h-1zm4-1h1v1h-1zm4-2h1v1h-1zm4-1h1v1h-1zm4-2h1v1h-1zm4-2h1v1h-1zm4-1h1v1h-1zm4-2h1v1h-1zm4-1h1v1h-1zm4-2h1v1h-1zm4-1h1v1h-1zm4-2h1v1h-1zm4-1h1v1h-1zm4-2h1v1h-1zm4-1h1v1h-1zm4-2h1v1h-1zm4-1h1v1h-1zm4-2h1v1h-1zm4-1h1v1h-1zm4-2h1v1h-1zm4-1h1v1h-1zm4-2h1v1h-1zm4-1h1v1h-1zm-270 125h1v1h-1zm4-1h1v1h-1zm4-2h1v1h-1zm4-1h1v1h-1zm4-2h1v1h-1zm4-1h1v1h-1zm4-2h1v1h-1zm4-1h1v1h-1zm4-2h1v1h-1zm4-1h1v1h-1zm4-2h1v1h-1zm4-1h1v1h-1zm4-2h1v1h-1zm4-1h1v1h-1zm4-2h1v1h-1zm4-2h1v1h-1zm4-1h1v1h-1zm4-2h1v1h-1zm4-1h1v1h-1zm4-2h1v1h-1zm4-1h1v1h-1zm4-2h1v1h-1zm4-1h1v1h-1zm4-2h1v1h-1zm4-1h1v1h-1zm4-2h1v1h-1zm4-1h1v1h-1zm4-2h1v1h-1zm4-1h1v1h-1zm4-2h1v1h-1zm4-1h1v1h-1zm4-2h1v1h-1zm4-1h1v1h-1zm4-2h1v1h-1zm4-2h1v1h-1zm4-1h1v1h-1zm4-2h1v1h-1zm4-1h1v1h-1zm4-2h1v1h-1zm4-1h1v1h-1zm4-2h1v1h-1zm4-1h1v1h-1zm4-2h1v1h-1zm4-1h1v1h-1zm4-2h1v1h-1zm4-1h1v1h-1zm4-2h1v1h-1zm4-1h1v1h-1zm4-2h1v1h-1zm4-1h1v1h-1zm4-2h1v1h-1zm4-1h1v1h-1zm4-2h1v1h-1zm4-2h1v1h-1zm4-1h1v1h-1zm4-2h1v1h-1zm4-1h1v1h-1zm4-2h1v1h-1zm4-1h1v1h-1zm4-2h1v1h-1zm4-1h1v1h-1zm4-2h1v1h-1zm4-1h1v1h-1zm4-2h1v1h-1zm4-1h1v1h-1zm4-2h1v1h-1zm4-1h1v1h-1zm4-2h1v1h-1zm4-1h1v1h-1zm4-2h1v1h-1zm4-1h1v1h-1zm4-2h1v1h-1zm4-2h1v1h-1zm4-1h1v1h-1zm-270 126h1v1h-1zm4-2h1v1h-1zm4-1h1v1h-1zm4-2h1v1h-1zm4-1h1v1h-1zm4-2h1v1h-1zm4-1h1v1h-1zm4-2h1v1h-1zm4-1h1v1h-1zm4-2h1v1h-1zm4-1h1v1h-1zm4-2h1v1h-1zm4-1h1v1h-1zm4-2h1v1h-1zm4-2h1v1h-1zm4-1h1v1h-1zm4-2h1v1h-1zm4-1h1v1h-1zm4-2h1v1h-1zm4-1h1v1h-1zm4-2h1v1h-1zm4-1h1v1h-1zm4-2h1v1h-1zm4-1h1v1h-1zm4-2h1v1h-1zm4-1h1v1h-1zm4-2h1v1h-1zm4-1h1v1h-1zm4-2h1v1h-1zm4-1h1v1h-1zm4-2h1v1h-1zm4-1h1v1h-1zm4-2h1v1h-1zm4-2h1v1h-1zm4-1h1v1h-1zm4-2h1v1h-1zm4-1h1v1h-1zm4-2h1v1h-1zm4-1h1v1h-1zm4-2h1v1h-1zm4-1h1v1h-1zm4-2h1v1h-1zm4-1h1v1h-1zm4-2h1v1h-1zm4-1h1v1h-1zm4-2h1v1h-1zm4-1h1v1h-1zm4-2h1v1h-1zm4-1h1v1h-1zm4-2h1v1h-1zm4-1h1v1h-1zm4-2h1v1h-1zm4-2h1v1h-1zm4-1h1v1h-1zm4-2h1v1h-1zm4-1h1v1h-1zm4-2h1v1h-1zm4-1h1v1h-1zm4-2h1v1h-1zm4-1h1v1h-1zm4-2h1v1h-1zm4-1h1v1h-1zm4-2h1v1h-1zm4-1h1v1h-1zm4-2h1v1h-1zm4-1h1v1h-1zm4-2h1v1h-1zm4-1h1v1h-1zm4-2h1v1h-1zm4-1h1v1h-1zm4-2h1v1h-1zm4-2h1v1h-1zm4-1h1v1h-1zm4-2h1v1h-1zm-270 126h1v1h-1zm4-1h1v1h-1zm4-2h1v1h-1zm4-1h1v1h-1zm4-2h1v1h-1zm4-1h1v1h-1zm4-2h1v1h-1zm4-1h1v1h-1zm4-2h1v1h-1zm4-1h1v1h-1zm4-2h1v1h-1zm4-1h1v1h-1zm4-2h1v1h-1zm4-2h1v1h-1zm4-1h1v1h-1zm4-2h1v1h-1zm4-1h1v1h-1zm4-2h1v1h-1zm4-1h1v1h-1zm4-2h1v1h-1zm4-1h1v1h-1zm4-2h1v1h-1zm4-1h1v1h-1zm4-2h1v1h-1zm4-1h1v1h-1zm4-2h1v1h-1zm4-1h1v1h-1zm4-2h1v1h-1zm4-1h1v1h-1zm4-2h1v1h-1zm4-1h1v1h-1zm4-2h1v1h-1zm4-2h1v1h-1zm4-1h1v1h-1zm4-2h1v1h-1zm4-1h1v1h-1zm4-2h1v1h-1zm4-1h1v1h-1zm4-2h1v1h-1zm4-1h1v1h-1zm4-2h1v1h-1zm4-1h1v1h-1zm4-2h1v1h-1zm4-1h1v1h-1zm4-2h1v1h-1zm4-1h1v1h-1zm4-2h1v1h-1zm4-1h1v1h-1zm4-2h1v1h-1zm4-1h1v1h-1zm4-2h1v1h-1zm4-2h1v1h-1zm4-1h1v1h-1zm4-2h1v1h-1zm4-1h1v1h-1zm4-2h1v1h-1zm4-1h1v1h-1zm4-2h1v1h-1zm4-1h1v1h-1zm4-2h1v1h-1zm4-1h1v1h-1zm4-2h1v1h-1zm4-1h1v1h-1zm4-2h1v1h-1zm4-1h1v1h-1zm4-2h1v1h-1zm4-1h1v1h-1zm4-2h1v1h-1zm4-1h1v1h-1zm4-2h1v1h-1zm8-3h1v1h-1zm4-2h1v1h-1zm4-1h1v1h-1zm-269 126h1v1h-1zm4-2h1v1h-1zm4-1h1v1h-1zm4-2h1v1h-1zm4-1h1v1h-1zm4-2h1v1h-1zm4-1h1v1h-1zm4-2h1v1h-1zm4-1h1v1h-1zm4-2h1v1h-1zm4-2h1v1h-1zm4-1h1v1h-1zm4-2h1v1h-1zm4-1h1v1h-1zm4-2h1v1h-1zm4-1h1v1h-1zm4-2h1v1h-1zm4-1h1v1h-1zm4-2h1v1h-1zm4-1h1v1h-1zm4-2h1v1h-1zm4-1h1v1h-1zm4-2h1v1h-1zm4-1h1v1h-1zm4-2h1v1h-1zm4-1h1v1h-1zm4-2h1v1h-1zm4-1h1v1h-1zm4-2h1v1h-1zm4-2h1v1h-1zm4-1h1v1h-1zm4-2h1v1h-1zm4-1h1v1h-1zm4-2h1v1h-1zm4-1h1v1h-1zm4-2h1v1h-1zm4-1h1v1h-1zm4-2h1v1h-1zm4-1h1v1h-1zm4-2h1v1h-1zm4-1h1v1h-1zm4-2h1v1h-1zm4-1h1v1h-1zm4-2h1v1h-1zm4-1h1v1h-1zm4-2h1v1h-1zm4-1h1v1h-1zm4-2h1v1h-1zm4-1h1v1h-1zm4-2h1v1h-1zm4-2h1v1h-1zm4-1h1v1h-1zm4-2h1v1h-1zm4-1h1v1h-1zm4-2h1v1h-1zm4-1h1v1h-1zm4-2h1v1h-1zm4-1h1v1h-1zm4-2h1v1h-1zm4-1h1v1h-1zm4-2h1v1h-1zm4-1h1v1h-1zm4-2h1v1h-1zm4-1h1v1h-1zm4-2h1v1h-1zm4-1h1v1h-1zm4-2h1v1h-1zm4-1h1v1h-1zm4-2h1v1h-1zm4-2h1v1h-1zm4-1h1v1h-1zm4-2h1v1h-1zm4-1h1v1h-1zm4-2h1v1h-1zm-270 126h1v1h-1zm4-1h1v1h-1zm4-2h1v1h-1zm4-1h1v1h-1zm4-2h1v1h-1zm4-1h1v1h-1zm4-2h1v1h-1zm4-1h1v1h-1zm4-2h1v1h-1zm4-2h1v1h-1zm4-1h1v1h-1zm4-2h1v1h-1zm4-1h1v1h-1zm4-2h1v1h-1zm4-1h1v1h-1zm4-2h1v1h-1zm4-1h1v1h-1zm4-2h1v1h-1zm4-1h1v1h-1zm4-2h1v1h-1zm4-1h1v1h-1zm4-2h1v1h-1zm4-1h1v1h-1zm4-2h1v1h-1zm4-1h1v1h-1zm4-2h1v1h-1zm4-1h1v1h-1zm4-2h1v1h-1zm4-2h1v1h-1zm4-1h1v1h-1zm4-2h1v1h-1zm4-1h1v1h-1zm4-2h1v1h-1zm4-1h1v1h-1zm4-2h1v1h-1zm4-1h1v1h-1zm4-2h1v1h-1zm4-1h1v1h-1zm4-2h1v1h-1zm4-1h1v1h-1zm4-2h1v1h-1zm4-1h1v1h-1zm4-2h1v1h-1zm4-1h1v1h-1zm4-2h1v1h-1zm4-1h1v1h-1zm4-2h1v1h-1zm4-2h1v1h-1zm4-1h1v1h-1zm4-2h1v1h-1zm4-1h1v1h-1zm4-2h1v1h-1zm4-1h1v1h-1zm4-2h1v1h-1zm4-1h1v1h-1zm4-2h1v1h-1zm4-1h1v1h-1zm4-2h1v1h-1zm4-1h1v1h-1zm4-2h1v1h-1zm4-1h1v1h-1zm4-2h1v1h-1zm4-1h1v1h-1zm4-2h1v1h-1zm4-1h1v1h-1zm4-2h1v1h-1zm4-2h1v1h-1zm4-1h1v1h-1zm4-2h1v1h-1zm4-1h1v1h-1zm4-2h1v1h-1zm4-1h1v1h-1zm4-2h1v1h-1zm4-1h1v1h-1zm-270 126h1v1h-1zm4-2h1v1h-1zm4-1h1v1h-1zm4-2h1v1h-1zm4-1h1v1h-1zm4-2h1v1h-1zm4-1h1v1h-1zm4-2h1v1h-1zm4-2h1v1h-1zm4-1h1v1h-1zm4-2h1v1h-1zm4-1h1v1h-1zm4-2h1v1h-1zm4-1h1v1h-1zm4-2h1v1h-1zm4-1h1v1h-1zm4-2h1v1h-1zm4-1h1v1h-1zm4-2h1v1h-1zm4-1h1v1h-1zm4-2h1v1h-1zm4-1h1v1h-1zm4-2h1v1h-1zm4-1h1v1h-1zm4-2h1v1h-1zm4-1h1v1h-1zm4-2h1v1h-1zm4-2h1v1h-1zm4-1h1v1h-1zm4-2h1v1h-1zm4-1h1v1h-1zm4-2h1v1h-1zm4-1h1v1h-1zm4-2h1v1h-1zm4-1h1v1h-1zm4-2h1v1h-1zm4-1h1v1h-1zm4-2h1v1h-1zm4-1h1v1h-1zm4-2h1v1h-1zm4-1h1v1h-1zm4-2h1v1h-1zm4-1h1v1h-1zm4-2h1v1h-1zm4-1h1v1h-1zm8-4h1v1h-1zm4-1h1v1h-1zm4-2h1v1h-1zm4-1h1v1h-1zm4-2h1v1h-1zm4-1h1v1h-1zm4-2h1v1h-1zm4-1h1v1h-1zm4-2h1v1h-1zm4-1h1v1h-1zm4-2h1v1h-1zm4-1h1v1h-1zm4-2h1v1h-1zm4-1h1v1h-1zm4-2h1v1h-1zm4-1h1v1h-1zm4-2h1v1h-1zm4-1h1v1h-1zm4-2h1v1h-1zm4-2h1v1h-1zm4-1h1v1h-1zm4-2h1v1h-1zm4-1h1v1h-1zm4-2h1v1h-1zm4-1h1v1h-1zm4-2h1v1h-1zm4-1h1v1h-1zm4-2h1v1h-1zm-270 126h1v1h-1zm4-1h1v1h-1zm4-2h1v1h-1zm4-1h1v1h-1zm4-2h1v1h-1zm4-2h1v1h-1zm4-1h1v1h-1zm4-2h1v1h-1zm4-1h1v1h-1zm4-2h1v1h-1zm4-1h1v1h-1zm4-2h1v1h-1zm4-1h1v1h-1zm4-2h1v1h-1zm4-1h1v1h-1zm4-2h1v1h-1zm4-1h1v1h-1zm4-2h1v1h-1zm4-1h1v1h-1zm4-2h1v1h-1zm4-1h1v1h-1zm4-2h1v1h-1zm4-1h1v1h-1zm4-2h1v1h-1zm4-1h1v1h-1zm4-2h1v1h-1zm4-2h1v1h-1zm4-1h1v1h-1zm4-2h1v1h-1zm4-1h1v1h-1zm4-2h1v1h-1zm4-1h1v1h-1zm4-2h1v1h-1zm4-1h1v1h-1zm4-2h1v1h-1zm4-1h1v1h-1zm4-2h1v1h-1zm4-1h1v1h-1zm4-2h1v1h-1zm4-1h1v1h-1zm4-2h1v1h-1zm4-1h1v1h-1zm4-2h1v1h-1zm4-1h1v1h-1zm4-2h1v1h-1zm4-2h1v1h-1zm4-1h1v1h-1zm4-2h1v1h-1zm4-1h1v1h-1zm4-2h1v1h-1zm4-1h1v1h-1zm4-2h1v1h-1zm4-1h1v1h-1zm4-2h1v1h-1zm4-1h1v1h-1zm4-2h1v1h-1zm4-1h1v1h-1zm4-2h1v1h-1zm4-1h1v1h-1zm4-2h1v1h-1zm4-1h1v1h-1zm4-2h1v1h-1zm4-1h1v1h-1zm4-2h1v1h-1zm4-2h1v1h-1zm4-1h1v1h-1zm4-2h1v1h-1zm4-1h1v1h-1zm4-2h1v1h-1zm4-1h1v1h-1zm4-2h1v1h-1zm4-1h1v1h-1zm4-2h1v1h-1zm4-1h1v1h-1zm-269 126h1v1h-1zm4-2h1v1h-1zm4-1h1v1h-1zm8-4h1v1h-1zm4-1h1v1h-1zm4-2h1v1h-1zm4-1h1v1h-1zm4-2h1v1h-1zm4-1h1v1h-1zm4-2h1v1h-1zm4-1h1v1h-1zm4-2h1v1h-1zm4-1h1v1h-1zm4-2h1v1h-1zm4-1h1v1h-1zm4-2h1v1h-1zm4-1h1v1h-1zm4-2h1v1h-1zm4-1h1v1h-1zm4-2h1v1h-1zm4-1h1v1h-1zm4-2h1v1h-1zm4-2h1v1h-1zm4-1h1v1h-1zm4-2h1v1h-1zm4-1h1v1h-1zm4-2h1v1h-1zm4-1h1v1h-1zm4-2h1v1h-1zm4-1h1v1h-1zm4-2h1v1h-1zm4-1h1v1h-1zm4-2h1v1h-1zm4-1h1v1h-1zm4-2h1v1h-1zm4-1h1v1h-1zm4-2h1v1h-1zm4-1h1v1h-1zm4-2h1v1h-1zm4-1h1v1h-1zm4-2h1v1h-1zm4-2h1v1h-1zm4-1h1v1h-1zm4-2h1v1h-1zm4-1h1v1h-1zm4-2h1v1h-1zm4-1h1v1h-1zm4-2h1v1h-1zm4-1h1v1h-1zm4-2h1v1h-1zm4-1h1v1h-1zm4-2h1v1h-1zm4-1h1v1h-1zm4-2h1v1h-1zm4-1h1v1h-1zm4-2h1v1h-1zm4-1h1v1h-1zm4-2h1v1h-1zm4-1h1v1h-1zm4-2h1v1h-1zm4-1h1v1h-1zm4-2h1v1h-1zm4-2h1v1h-1zm4-1h1v1h-1zm4-2h1v1h-1zm4-1h1v1h-1zm4-2h1v1h-1zm4-1h1v1h-1zm4-2h1v1h-1zm8-3h1v1h-1zm4-1h1v1h-1zm-266 124h1v1h-1zm4-1h1v1h-1zm4-2h1v1h-1zm4-2h1v1h-1zm4-1h1v1h-1zm4-2h1v1h-1zm4-1h1v1h-1zm4-2h1v1h-1zm4-1h1v1h-1zm4-2h1v1h-1zm4-1h1v1h-1zm4-2h1v1h-1zm4-1h1v1h-1zm4-2h1v1h-1zm4-1h1v1h-1zm4-2h1v1h-1zm4-1h1v1h-1zm4-2h1v1h-1zm4-1h1v1h-1zm4-2h1v1h-1zm4-1h1v1h-1zm4-2h1v1h-1zm4-2h1v1h-1zm4-1h1v1h-1zm4-2h1v1h-1zm4-1h1v1h-1zm4-2h1v1h-1zm4-1h1v1h-1zm4-2h1v1h-1zm4-1h1v1h-1zm4-2h1v1h-1zm4-1h1v1h-1zm4-2h1v1h-1zm4-1h1v1h-1zm4-2h1v1h-1zm4-1h1v1h-1zm4-2h1v1h-1zm4-1h1v1h-1zm4-2h1v1h-1zm4-1h1v1h-1zm4-2h1v1h-1zm4-2h1v1h-1zm4-1h1v1h-1zm4-2h1v1h-1zm4-1h1v1h-1zm4-2h1v1h-1zm4-1h1v1h-1zm4-2h1v1h-1zm4-1h1v1h-1zm4-2h1v1h-1zm4-1h1v1h-1zm4-2h1v1h-1zm4-1h1v1h-1zm4-2h1v1h-1zm4-1h1v1h-1zm4-2h1v1h-1zm4-1h1v1h-1zm4-2h1v1h-1zm4-1h1v1h-1zm4-2h1v1h-1zm4-2h1v1h-1zm4-1h1v1h-1zm4-2h1v1h-1zm4-1h1v1h-1zm4-2h1v1h-1zm4-1h1v1h-1zm4-2h1v1h-1zm4-1h1v1h-1zm4-2h1v1h-1zm4-1h1v1h-1zm4-2h1v1h-1zm4-1h1v1h-1zm4-2h1v1h-1zm4-1h1v1h-1zm-270 126h1v1h-1zm4-2h1v1h-1zm4-2h1v1h-1zm4-1h1v1h-1zm4-2h1v1h-1zm4-1h1v1h-1zm4-2h1v1h-1zm4-1h1v1h-1zm4-2h1v1h-1zm4-1h1v1h-1zm4-2h1v1h-1zm4-1h1v1h-1zm4-2h1v1h-1zm4-1h1v1h-1zm4-2h1v1h-1zm4-1h1v1h-1zm4-2h1v1h-1zm4-1h1v1h-1zm4-2h1v1h-1zm4-1h1v1h-1zm4-2h1v1h-1zm4-2h1v1h-1zm4-1h1v1h-1zm4-2h1v1h-1zm4-1h1v1h-1zm4-2h1v1h-1zm4-1h1v1h-1zm4-2h1v1h-1zm4-1h1v1h-1zm4-2h1v1h-1zm4-1h1v1h-1zm4-2h1v1h-1zm4-1h1v1h-1zm4-2h1v1h-1zm4-1h1v1h-1zm4-2h1v1h-1zm4-1h1v1h-1zm4-2h1v1h-1zm4-1h1v1h-1zm4-2h1v1h-1zm4-2h1v1h-1zm4-1h1v1h-1zm4-2h1v1h-1zm4-1h1v1h-1zm4-2h1v1h-1zm4-1h1v1h-1zm4-2h1v1h-1zm4-1h1v1h-1zm4-2h1v1h-1zm4-1h1v1h-1zm4-2h1v1h-1zm4-1h1v1h-1zm4-2h1v1h-1zm4-1h1v1h-1zm4-2h1v1h-1zm4-1h1v1h-1zm4-2h1v1h-1zm4-1h1v1h-1zm4-2h1v1h-1zm4-2h1v1h-1zm4-1h1v1h-1zm4-2h1v1h-1zm4-1h1v1h-1zm4-2h1v1h-1zm4-1h1v1h-1zm4-2h1v1h-1zm4-1h1v1h-1zm4-2h1v1h-1zm4-1h1v1h-1zm4-2h1v1h-1zm4-1h1v1h-1zm4-2h1v1h-1zm4-1h1v1h-1zm4-2h1v1h-1zm-270 126h1v1h-1zm4-2h1v1h-1zm4-1h1v1h-1zm4-2h1v1h-1zm4-1h1v1h-1zm4-2h1v1h-1zm4-1h1v1h-1zm4-2h1v1h-1zm4-1h1v1h-1zm4-2h1v1h-1zm4-1h1v1h-1zm4-2h1v1h-1zm4-1h1v1h-1zm4-2h1v1h-1zm4-1h1v1h-1zm4-2h1v1h-1zm4-1h1v1h-1zm4-2h1v1h-1zm4-1h1v1h-1zm4-2h1v1h-1zm4-2h1v1h-1zm4-1h1v1h-1zm4-2h1v1h-1zm4-1h1v1h-1zm4-2h1v1h-1zm4-1h1v1h-1zm4-2h1v1h-1zm4-1h1v1h-1zm4-2h1v1h-1zm4-1h1v1h-1zm4-2h1v1h-1zm4-1h1v1h-1zm4-2h1v1h-1zm4-1h1v1h-1zm4-2h1v1h-1zm4-1h1v1h-1zm4-2h1v1h-1zm4-1h1v1h-1zm4-2h1v1h-1zm4-2h1v1h-1zm4-1h1v1h-1zm4-2h1v1h-1zm4-1h1v1h-1zm4-2h1v1h-1zm4-1h1v1h-1zm4-2h1v1h-1zm4-1h1v1h-1zm4-2h1v1h-1zm4-1h1v1h-1zm4-2h1v1h-1zm4-1h1v1h-1zm4-2h1v1h-1zm4-1h1v1h-1zm4-2h1v1h-1zm4-1h1v1h-1zm4-2h1v1h-1zm4-1h1v1h-1zm4-2h1v1h-1zm4-2h1v1h-1zm4-1h1v1h-1zm4-2h1v1h-1zm4-1h1v1h-1zm4-2h1v1h-1zm4-1h1v1h-1zm4-2h1v1h-1zm4-1h1v1h-1zm4-2h1v1h-1zm4-1h1v1h-1zm4-2h1v1h-1zm4-1h1v1h-1zm4-2h1v1h-1zm4-1h1v1h-1zm4-2h1v1h-1zm4-1h1v1h-1z" fill="#000"/>
<path d="M440.5 166V455M473.5 154V443M507.5 142V431M540.5 130V419M574.5 114V407M607.5 102V391M641.5 90V379M674.5 78V367M708.5 66V355M743.5 74V363M765.5 90V379M787.5 102V391M809.5 118V407M831.5 134V423M854.5 146V435M876.5 162V451M898.5 174V463M920.5 190V479M943.5 206V495M965.5 218V507M987.5 234V523" stroke="#000" stroke-width="1" stroke-dasharray="1 3" shape-rendering="crispEdges" fill="none"/>
<polygon points="707.84,369.27 725.64,380.84 725.64,379.67 707.84,368.1" fill="#800000" stroke="#000" stroke-width="1.25" stroke-linejoin="round"/>
<polygon points="725.64,380.84 752.44,370.61 752.44,369.44 725.64,379.67" fill="#800000" stroke="#000" stroke-width="1.25" stroke-linejoin="round"/>
<polygon points="707.84,368.1 725.64,379.67 752.44,369.44 734.64,357.87" fill="#800000" stroke="#000" stroke-width="1.25" stroke-linejoin="round"/>
<polygon points="674.34,382.05 692.14,393.62 692.14,392.45 674.34,380.88" fill="#ef0000" stroke="#000" stroke-width="1.25" stroke-linejoin="round"/>
<polygon points="692.14,393.62 718.94,383.39 718.94,382.22 692.14,392.45" fill="#ef0000" stroke="#000" stroke-width="1.25" stroke-linejoin="round"/>
<polygon points="674.34,380.88 692.14,392.45 718.94,382.22 701.14,370.65" fill="#ef0000" stroke="#000" stroke-width="1.25" stroke-linejoin="round"/>
<polygon points="730.08,383.73 747.88,395.3 747.88,394.13 730.08,382.56" fill="#800000" stroke="#000" stroke-width="1.25" stroke-linejoin="round"/>
<polygon points="747.88,395.3 774.68,385.07 774.68,383.9 747.88,394.13" fill="#800000" stroke="#000" stroke-width="1.25" stroke-linejoin="round"/>
<polygon points="730.08,382.56 747.88,394.13 774.68,383.9 756.88,372.33" fill="#800000" stroke="#000" stroke-width="1.25" stroke-linejoin="round"/>
<polygon points="640.94,394.83 658.74,406.4 658.74,405.23 640.94,393.66" fill="#ff7000" stroke="#000" stroke-width="1.25" stroke-linejoin="round"/>
<polygon points="658.74,406.4 685.54,396.17 685.54,395 658.74,405.23" fill="#ff7000" stroke="#000" stroke-width="1.25" stroke-linejoin="round"/>
<polygon points="640.94,393.66 658.74,405.23 685.54,395 667.74,383.43" fill="#ff7000" stroke="#000" stroke-width="1.25" stroke-linejoin="round"/>
<polygon points="696.58,396.51 714.38,408.08 714.38,406.91 696.58,395.34" fill="#ef0000" stroke="#000" stroke-width="1.25" stroke-linejoin="round"/>
<polygon points="714.38,408.08 741.18,397.85 741.18,396.68 714.38,406.91" fill="#ef0000" stroke="#000" stroke-width="1.25" stroke-linejoin="round"/>
<polygon points="696.58,395.34 714.38,406.91 741.18,396.68 723.38,385.11" fill="#ef0000" stroke="#000" stroke-width="1.25" stroke-linejoin="round"/>
<polygon points="752.32,398.19 770.12,409.76 770.12,141.33 752.32,129.76" fill="#800000" stroke="#000" stroke-width="1" stroke-linejoin="round"/>
<polygon points="770.12,409.76 796.92,399.53 796.92,131.11 770.12,141.33" fill="#800000" stroke="#000" stroke-width="1" stroke-linejoin="round"/>
<polygon points="752.32,129.76 770.12,141.33 796.92,131.11 779.12,119.54" fill="#800000" stroke="#000" stroke-width="1" stroke-linejoin="round"/>
<polygon points="607.59,407.61 625.39,419.18 625.39,418.01 607.59,406.44" fill="#ffef00" stroke="#000" stroke-width="1.25" stroke-linejoin="round"/>
<polygon points="625.39,419.18 652.19,408.95 652.19,407.78 625.39,418.01" fill="#ffef00" stroke="#000" stroke-width="1.25" stroke-linejoin="round"/>
<polygon points="607.59,406.44 625.39,418.01 652.19,407.78 634.39,396.21" fill="#ffef00" stroke="#000" stroke-width="1.25" stroke-linejoin="round"/>
<polygon points="663.18,409.29 680.98,420.86 680.98,419.69 663.18,408.12" fill="#ff7000" stroke="#000" stroke-width="1.25" stroke-linejoin="round"/>
<polygon points="680.98,420.86 707.78,410.63 707.78,409.46 680.98,419.69" fill="#ff7000" stroke="#000" stroke-width="1.25" stroke-linejoin="round"/>
<polygon points="663.18,408.12 680.98,419.69 707.78,409.46 689.98,397.89" fill="#ff7000" stroke="#000" stroke-width="1.25" stroke-linejoin="round"/>
<polygon points="718.82,410.97 736.62,422.54 736.62,147.1 718.82,135.53" fill="#ef0000" stroke="#000" stroke-width="1" stroke-linejoin="round"/>
<polygon points="736.62,422.54 763.42,412.31 763.42,136.87 736.62,147.1" fill="#ef0000" stroke="#000" stroke-width="1" stroke-linejoin="round"/>
<polygon points="718.82,135.53 736.62,147.1 763.42,136.87 745.62,125.3" fill="#ef0000" stroke="#000" stroke-width="1" stroke-linejoin="round"/>
<polygon points="774.56,412.65 792.36,424.22 792.36,422.11 774.56,410.54" fill="#800000" stroke="#000" stroke-width="1.25" stroke-linejoin="round"/>
<polygon points="792.36,424.22 819.16,413.99 819.16,411.89 792.36,422.11" fill="#800000" stroke="#000" stroke-width="1.25" stroke-linejoin="round"/>
<polygon points="774.56,410.54 792.36,422.11 819.16,411.89 801.36,400.32" fill="#800000" stroke="#000" stroke-width="1.25" stroke-linejoin="round"/>
<polygon points="574.24,420.39 592.04,431.96 592.04,430.79 574.24,419.22" fill="#8fff70" stroke="#000" stroke-width="1.25" stroke-linejoin="round"/>
<polygon points="592.04,431.96 618.84,421.73 618.84,420.56 592.04,430.79" fill="#8fff70" stroke="#000" stroke-width="1.25" stroke-linejoin="round"/>
<polygon points="574.24,419.22 592.04,430.79 618.84,420.56 601.04,408.99" fill="#8fff70" stroke="#000" stroke-width="1.25" stroke-linejoin="round"/>
<polygon points="629.83,422.07 647.63,433.64 647.63,432.47 629.83,420.9" fill="#ffef00" stroke="#000" stroke-width="1.25" stroke-linejoin="round"/>
<polygon points="647.63,433.64 674.43,423.41 674.43,422.24 647.63,432.47" fill="#ffef00" stroke="#000" stroke-width="1.25" stroke-linejoin="round"/>
<polygon points="629.83,420.9 647.63,432.47 674.43,422.24 656.63,410.67" fill="#ffef00" stroke="#000" stroke-width="1.25" stroke-linejoin="round"/>
<polygon points="685.42,423.75 703.22,435.32 703.22,165.14 685.42,153.57" fill="#ff7000" stroke="#000" stroke-width="1" stroke-linejoin="round"/>
<polygon points="703.22,435.32 730.02,425.09 730.02,154.91 703.22,165.14" fill="#ff7000" stroke="#000" stroke-width="1" stroke-linejoin="round"/>
<polygon points="685.42,153.57 703.22,165.14 730.02,154.91 712.22,143.35" fill="#ff7000" stroke="#000" stroke-width="1" stroke-linejoin="round"/>
<polygon points="741.06,425.43 758.86,437 758.86,435.83 741.06,424.26" fill="#ef0000" stroke="#000" stroke-width="1.25" stroke-linejoin="round"/>
<polygon points="758.86,437 785.66,426.77 785.66,425.6 758.86,435.83" fill="#ef0000" stroke="#000" stroke-width="1.25" stroke-linejoin="round"/>
<polygon points="741.06,424.26 758.86,435.83 785.66,425.6 767.86,414.03" fill="#ef0000" stroke="#000" stroke-width="1.25" stroke-linejoin="round"/>
<polygon points="796.8,427.11 814.6,438.68 814.6,437.51 796.8,425.94" fill="#800000" stroke="#000" stroke-width="1.25" stroke-linejoin="round"/>
<polygon points="814.6,438.68 841.4,428.45 841.4,427.28 814.6,437.51" fill="#800000" stroke="#000" stroke-width="1.25" stroke-linejoin="round"/>
<polygon points="796.8,425.94 814.6,437.51 841.4,427.28 823.6,415.71" fill="#800000" stroke="#000" stroke-width="1.25" stroke-linejoin="round"/>
<polygon points="540.89,433.17 558.69,444.74 558.69,443.57 540.89,432" fill="#10ffef" stroke="#000" stroke-width="1.25" stroke-linejoin="round"/>
<polygon points="558.69,444.74 585.49,434.51 585.49,433.34 558.69,443.57" fill="#10ffef" stroke="#000" stroke-width="1.25" stroke-linejoin="round"/>
<polygon points="540.89,432 558.69,443.57 585.49,433.34 567.69,421.77" fill="#10ffef" stroke="#000" stroke-width="1.25" stroke-linejoin="round"/>
<polygon points="596.48,434.85 614.28,446.42 614.28,445.25 596.48,433.68" fill="#8fff70" stroke="#000" stroke-width="1.25" stroke-linejoin="round"/>
<polygon points="614.28,446.42 641.08,436.19 641.08,435.02 614.28,445.25" fill="#8fff70" stroke="#000" stroke-width="1.25" stroke-linejoin="round"/>
<polygon points="596.48,433.68 614.28,445.25 641.08,435.02 623.28,423.45" fill="#8fff70" stroke="#000" stroke-width="1.25" stroke-linejoin="round"/>
<polygon points="652.07,436.53 669.87,448.1 669.87,197.8 652.07,186.23" fill="#ffef00" stroke="#000" stroke-width="1" stroke-linejoin="round"/>
<polygon points="669.87,448.1 696.67,437.87 696.67,187.58 669.87,197.8" fill="#ffef00" stroke="#000" stroke-width="1" stroke-linejoin="round"/>
<polygon points="652.07,186.23 669.87,197.8 696.67,187.58 678.87,176.01" fill="#ffef00" stroke="#000" stroke-width="1" stroke-linejoin="round"/>
<polygon points="707.66,438.21 725.46,449.78 725.46,448.61 707.66,437.04" fill="#ff7000" stroke="#000" stroke-width="1.25" stroke-linejoin="round"/>
<polygon points="725.46,449.78 752.26,439.55 752.26,438.38 725.46,448.61" fill="#ff7000" stroke="#000" stroke-width="1.25" stroke-linejoin="round"/>
<polygon points="707.66,437.04 725.46,448.61 752.26,438.38 734.46,426.81" fill="#ff7000" stroke="#000" stroke-width="1.25" stroke-linejoin="round"/>
<polygon points="763.3,439.89 781.1,451.46 781.1,450.29 763.3,438.72" fill="#ef0000" stroke="#000" stroke-width="1.25" stroke-linejoin="round"/>
<polygon points="781.1,451.46 807.9,441.23 807.9,440.06 781.1,450.29" fill="#ef0000" stroke="#000" stroke-width="1.25" stroke-linejoin="round"/>
<polygon points="763.3,438.72 781.1,450.29 807.9,440.06 790.1,428.49" fill="#ef0000" stroke="#000" stroke-width="1.25" stroke-linejoin="round"/>
<polygon points="819.04,441.57 836.84,453.14 836.84,433.25 819.04,421.68" fill="#800000" stroke="#000" stroke-width="1" stroke-linejoin="round"/>
<polygon points="836.84,453.14 863.64,442.91 863.64,423.03 836.84,433.25" fill="#800000" stroke="#000" stroke-width="1" stroke-linejoin="round"/>
<polygon points="819.04,421.68 836.84,433.25 863.64,423.03 845.84,411.46" fill="#800000" stroke="#000" stroke-width="1" stroke-linejoin="round"/>
<polygon points="507.54,445.95 525.34,457.52 525.34,456.35 507.54,444.78" fill="#008fff" stroke="#000" stroke-width="1.25" stroke-linejoin="round"/>
<polygon points="525.34,457.52 552.14,447.29 552.14,446.12 525.34,456.35" fill="#008fff" stroke="#000" stroke-width="1.25" stroke-linejoin="round"/>
<polygon points="507.54,444.78 525.34,456.35 552.14,446.12 534.34,434.55" fill="#008fff" stroke="#000" stroke-width="1.25" stroke-linejoin="round"/>
<polygon points="563.13,447.63 580.93,459.2 580.93,458.03 563.13,446.46" fill="#10ffef" stroke="#000" stroke-width="1.25" stroke-linejoin="round"/>
<polygon points="580.93,459.2 607.73,448.97 607.73,447.8 580.93,458.03" fill="#10ffef" stroke="#000" stroke-width="1.25" stroke-linejoin="round"/>
<polygon points="563.13,446.46 580.93,458.03 607.73,447.8 589.93,436.23" fill="#10ffef" stroke="#000" stroke-width="1.25" stroke-linejoin="round"/>
<polygon points="618.72,449.31 636.52,460.88 636.52,250.35 618.72,238.78" fill="#8fff70" stroke="#000" stroke-width="1" stroke-linejoin="round"/>
<polygon points="636.52,460.88 663.32,450.65 663.32,240.12 636.52,250.35" fill="#8fff70" stroke="#000" stroke-width="1" stroke-linejoin="round"/>
<polygon points="618.72,238.78 636.52,250.35 663.32,240.12 645.52,228.56" fill="#8fff70" stroke="#000" stroke-width="1" stroke-linejoin="round"/>
<polygon points="674.31,450.99 692.11,462.56 692.11,459.05 674.31,447.48" fill="#ffef00" stroke="#000" stroke-width="1.25" stroke-linejoin="round"/>
<polygon points="692.11,462.56 718.91,452.33 718.91,448.82 692.11,459.05" fill="#ffef00" stroke="#000" stroke-width="1.25" stroke-linejoin="round"/>
<polygon points="674.31,447.48 692.11,459.05 718.91,448.82 701.11,437.26" fill="#ffef00" stroke="#000" stroke-width="1.25" stroke-linejoin="round"/>
<polygon points="729.9,452.67 747.7,464.24 747.7,463.07 729.9,451.5" fill="#ff7000" stroke="#000" stroke-width="1.25" stroke-linejoin="round"/>
<polygon points="747.7,464.24 774.5,454.01 774.5,452.84 747.7,463.07" fill="#ff7000" stroke="#000" stroke-width="1.25" stroke-linejoin="round"/>
<polygon points="729.9,451.5 747.7,463.07 774.5,452.84 756.7,441.27" fill="#ff7000" stroke="#000" stroke-width="1.25" stroke-linejoin="round"/>
<polygon points="785.54,454.35 803.34,465.92 803.34,458.9 785.54,447.33" fill="#ef0000" stroke="#000" stroke-width="1" stroke-linejoin="round"/>
<polygon points="803.34,465.92 830.14,455.69 830.14,448.67 803.34,458.9" fill="#ef0000" stroke="#000" stroke-width="1" stroke-linejoin="round"/>
<polygon points="785.54,447.33 803.34,458.9 830.14,448.67 812.34,437.11" fill="#ef0000" stroke="#000" stroke-width="1" stroke-linejoin="round"/>
<polygon points="841.28,456.03 859.08,467.6 859.08,466.43 841.28,454.86" fill="#800000" stroke="#000" stroke-width="1.25" stroke-linejoin="round"/>
<polygon points="859.08,467.6 885.88,457.37 885.88,456.2 859.08,466.43" fill="#800000" stroke="#000" stroke-width="1.25" stroke-linejoin="round"/>
<polygon points="841.28,454.86 859.08,466.43 885.88,456.2 868.08,444.63" fill="#800000" stroke="#000" stroke-width="1.25" stroke-linejoin="round"/>
<polygon points="474.19,458.73 491.99,470.3 491.99,469.13 474.19,457.56" fill="#0010ff" stroke="#000" stroke-width="1.25" stroke-linejoin="round"/>
<polygon points="491.99,470.3 518.79,460.07 518.79,458.9 491.99,469.13" fill="#0010ff" stroke="#000" stroke-width="1.25" stroke-linejoin="round"/>
<polygon points="474.19,457.56 491.99,469.13 518.79,458.9 500.99,447.33" fill="#0010ff" stroke="#000" stroke-width="1.25" stroke-linejoin="round"/>
<polygon points="529.78,460.41 547.58,471.98 547.58,470.81 529.78,459.24" fill="#008fff" stroke="#000" stroke-width="1.25" stroke-linejoin="round"/>
<polygon points="547.58,471.98 574.38,461.75 574.38,460.58 547.58,470.81" fill="#008fff" stroke="#000" stroke-width="1.25" stroke-linejoin="round"/>
<polygon points="529.78,459.24 547.58,470.81 574.38,460.58 556.58,449.01" fill="#008fff" stroke="#000" stroke-width="1.25" stroke-linejoin="round"/>
<polygon points="585.37,462.09 603.17,473.66 603.17,334.47 585.37,322.91" fill="#10ffef" stroke="#000" stroke-width="1" stroke-linejoin="round"/>
<polygon points="603.17,473.66 629.97,463.43 629.97,324.25 603.17,334.47" fill="#10ffef" stroke="#000" stroke-width="1" stroke-linejoin="round"/>
<polygon points="585.37,322.91 603.17,334.47 629.97,324.25 612.17,312.68" fill="#10ffef" stroke="#000" stroke-width="1" stroke-linejoin="round"/>
<polygon points="640.96,463.77 658.76,475.34 658.76,472.41 640.96,460.84" fill="#8fff70" stroke="#000" stroke-width="1.25" stroke-linejoin="round"/>
<polygon points="658.76,475.34 685.56,465.11 685.56,462.19 658.76,472.41" fill="#8fff70" stroke="#000" stroke-width="1.25" stroke-linejoin="round"/>
<polygon points="640.96,460.84 658.76,472.41 685.56,462.19 667.76,450.62" fill="#8fff70" stroke="#000" stroke-width="1.25" stroke-linejoin="round"/>
<polygon points="696.55,465.45 714.35,477.02 714.35,475.85 696.55,464.28" fill="#ffef00" stroke="#000" stroke-width="1.25" stroke-linejoin="round"/>
<polygon points="714.35,477.02 741.15,466.79 741.15,465.62 714.35,475.85" fill="#ffef00" stroke="#000" stroke-width="1.25" stroke-linejoin="round"/>
<polygon points="696.55,464.28 714.35,475.85 741.15,465.62 723.35,454.05" fill="#ffef00" stroke="#000" stroke-width="1.25" stroke-linejoin="round"/>
<polygon points="752.14,467.13 769.94,478.7 769.94,448.29 752.14,436.72" fill="#ff7000" stroke="#000" stroke-width="1" stroke-linejoin="round"/>
<polygon points="769.94,478.7 796.74,468.47 796.74,438.06 769.94,448.29" fill="#ff7000" stroke="#000" stroke-width="1" stroke-linejoin="round"/>
<polygon points="752.14,436.72 769.94,448.29 796.74,438.06 778.94,426.49" fill="#ff7000" stroke="#000" stroke-width="1" stroke-linejoin="round"/>
<polygon points="807.78,468.81 825.58,480.38 825.58,479.21 807.78,467.64" fill="#ef0000" stroke="#000" stroke-width="1.25" stroke-linejoin="round"/>
<polygon points="825.58,480.38 852.38,470.15 852.38,468.98 825.58,479.21" fill="#ef0000" stroke="#000" stroke-width="1.25" stroke-linejoin="round"/>
<polygon points="807.78,467.64 825.58,479.21 852.38,468.98 834.58,457.41" fill="#ef0000" stroke="#000" stroke-width="1.25" stroke-linejoin="round"/>
<polygon points="863.52,470.49 881.32,482.06 881.32,480.89 863.52,469.32" fill="#800000" stroke="#000" stroke-width="1.25" stroke-linejoin="round"/>
<polygon points="881.32,482.06 908.12,471.83 908.12,470.66 881.32,480.89" fill="#800000" stroke="#000" stroke-width="1.25" stroke-linejoin="round"/>
<polygon points="863.52,469.32 881.32,480.89 908.12,470.66 890.32,459.09" fill="#800000" stroke="#000" stroke-width="1.25" stroke-linejoin="round"/>
<polygon points="440.84,471.51 458.64,483.08 458.64,481.91 440.84,470.34" fill="#00008f" stroke="#000" stroke-width="1.25" stroke-linejoin="round"/>
<polygon points="458.64,483.08 485.44,472.85 485.44,471.68 458.64,481.91" fill="#00008f" stroke="#000" stroke-width="1.25" stroke-linejoin="round"/>
<polygon points="440.84,470.34 458.64,481.91 485.44,471.68 467.64,460.11" fill="#00008f" stroke="#000" stroke-width="1.25" stroke-linejoin="round"/>
<polygon points="496.43,473.19 514.23,484.76 514.23,483.59 496.43,472.02" fill="#0010ff" stroke="#000" stroke-width="1.25" stroke-linejoin="round"/>
<polygon points="514.23,484.76 541.03,474.53 541.03,473.36 514.23,483.59" fill="#0010ff" stroke="#000" stroke-width="1.25" stroke-linejoin="round"/>
<polygon points="496.43,472.02 514.23,483.59 541.03,473.36 523.23,461.79" fill="#0010ff" stroke="#000" stroke-width="1.25" stroke-linejoin="round"/>
<polygon points="552.02,474.87 569.82,486.44 569.82,346.08 552.02,334.52" fill="#008fff" stroke="#000" stroke-width="1" stroke-linejoin="round"/>
<polygon points="569.82,486.44 596.62,476.21 596.62,335.86 569.82,346.08" fill="#008fff" stroke="#000" stroke-width="1" stroke-linejoin="round"/>
<polygon points="552.02,334.52 569.82,346.08 596.62,335.86 578.82,324.29" fill="#008fff" stroke="#000" stroke-width="1" stroke-linejoin="round"/>
<polygon points="607.61,476.55 625.41,488.12 625.41,486.95 607.61,475.38" fill="#10ffef" stroke="#000" stroke-width="1.25" stroke-linejoin="round"/>
<polygon points="625.41,488.12 652.21,477.89 652.21,476.72 625.41,486.95" fill="#10ffef" stroke="#000" stroke-width="1.25" stroke-linejoin="round"/>
<polygon points="607.61,475.38 625.41,486.95 652.21,476.72 634.41,465.15" fill="#10ffef" stroke="#000" stroke-width="1.25" stroke-linejoin="round"/>
<polygon points="663.2,478.23 681,489.8 681,487.46 663.2,475.89" fill="#8fff70" stroke="#000" stroke-width="1.25" stroke-linejoin="round"/>
<polygon points="681,489.8 707.8,479.57 707.8,477.23 681,487.46" fill="#8fff70" stroke="#000" stroke-width="1.25" stroke-linejoin="round"/>
<polygon points="663.2,475.89 681,487.46 707.8,477.23 690,465.66" fill="#8fff70" stroke="#000" stroke-width="1.25" stroke-linejoin="round"/>
<polygon points="718.79,479.91 736.59,491.48 736.59,427.15 718.79,415.58" fill="#ffef00" stroke="#000" stroke-width="1" stroke-linejoin="round"/>
<polygon points="736.59,491.48 763.39,481.25 763.39,416.92 736.59,427.15" fill="#ffef00" stroke="#000" stroke-width="1" stroke-linejoin="round"/>
<polygon points="718.79,415.58 736.59,427.15 763.39,416.92 745.59,405.36" fill="#ffef00" stroke="#000" stroke-width="1" stroke-linejoin="round"/>
<polygon points="774.38,481.59 792.18,493.16 792.18,490.82 774.38,479.25" fill="#ff7000" stroke="#000" stroke-width="1.25" stroke-linejoin="round"/>
<polygon points="792.18,493.16 818.98,482.93 818.98,480.59 792.18,490.82" fill="#ff7000" stroke="#000" stroke-width="1.25" stroke-linejoin="round"/>
<polygon points="774.38,479.25 792.18,490.82 818.98,480.59 801.18,469.02" fill="#ff7000" stroke="#000" stroke-width="1.25" stroke-linejoin="round"/>
<polygon points="830.02,483.27 847.82,494.84 847.82,493.67 830.02,482.1" fill="#ef0000" stroke="#000" stroke-width="1.25" stroke-linejoin="round"/>
<polygon points="847.82,494.84 874.62,484.61 874.62,483.44 847.82,493.67" fill="#ef0000" stroke="#000" stroke-width="1.25" stroke-linejoin="round"/>
<polygon points="830.02,482.1 847.82,493.67 874.62,483.44 856.82,471.87" fill="#ef0000" stroke="#000" stroke-width="1.25" stroke-linejoin="round"/>
<polygon points="885.76,484.95 903.56,496.52 903.56,485.4 885.76,473.84" fill="#800000" stroke="#000" stroke-width="1" stroke-linejoin="round"/>
<polygon points="903.56,496.52 930.36,486.29 930.36,475.18 903.56,485.4" fill="#800000" stroke="#000" stroke-width="1" stroke-linejoin="round"/>
<polygon points="885.76,473.84 903.56,485.4 930.36,475.18 912.56,463.61" fill="#800000" stroke="#000" stroke-width="1" stroke-linejoin="round"/>
<polygon points="463.08,485.97 480.88,497.54 480.88,496.37 463.08,484.8" fill="#00008f" stroke="#000" stroke-width="1.25" stroke-linejoin="round"/>
<polygon points="480.88,497.54 507.68,487.31 507.68,486.14 480.88,496.37" fill="#00008f" stroke="#000" stroke-width="1.25" stroke-linejoin="round"/>
<polygon points="463.08,484.8 480.88,496.37 507.68,486.14 489.88,474.57" fill="#00008f" stroke="#000" stroke-width="1.25" stroke-linejoin="round"/>
<polygon points="518.67,487.65 536.47,499.22 536.47,358.86 518.67,347.3" fill="#0010ff" stroke="#000" stroke-width="1" stroke-linejoin="round"/>
<polygon points="536.47,499.22 563.27,488.99 563.27,348.64 536.47,358.86" fill="#0010ff" stroke="#000" stroke-width="1" stroke-linejoin="round"/>
<polygon points="518.67,347.3 536.47,358.86 563.27,348.64 545.47,337.07" fill="#0010ff" stroke="#000" stroke-width="1" stroke-linejoin="round"/>
<polygon points="574.26,489.33 592.06,500.9 592.06,499.73 574.26,488.16" fill="#008fff" stroke="#000" stroke-width="1.25" stroke-linejoin="round"/>
<polygon points="592.06,500.9 618.86,490.67 618.86,489.5 592.06,499.73" fill="#008fff" stroke="#000" stroke-width="1.25" stroke-linejoin="round"/>
<polygon points="574.26,488.16 592.06,499.73 618.86,489.5 601.06,477.93" fill="#008fff" stroke="#000" stroke-width="1.25" stroke-linejoin="round"/>
<polygon points="629.85,491.01 647.65,502.58 647.65,501.41 629.85,489.84" fill="#10ffef" stroke="#000" stroke-width="1.25" stroke-linejoin="round"/>
<polygon points="647.65,502.58 674.45,492.35 674.45,491.18 647.65,501.41" fill="#10ffef" stroke="#000" stroke-width="1.25" stroke-linejoin="round"/>
<polygon points="629.85,489.84 647.65,501.41 674.45,491.18 656.65,479.61" fill="#10ffef" stroke="#000" stroke-width="1.25" stroke-linejoin="round"/>
<polygon points="685.44,492.69 703.24,504.26 703.24,438.17 685.44,426.61" fill="#8fff70" stroke="#000" stroke-width="1" stroke-linejoin="round"/>
<polygon points="703.24,504.26 730.04,494.03 730.04,427.95 703.24,438.17" fill="#8fff70" stroke="#000" stroke-width="1" stroke-linejoin="round"/>
<polygon points="685.44,426.61 703.24,438.17 730.04,427.95 712.24,416.38" fill="#8fff70" stroke="#000" stroke-width="1" stroke-linejoin="round"/>
<polygon points="741.03,494.37 758.83,505.94 758.83,504.77 741.03,493.2" fill="#ffef00" stroke="#000" stroke-width="1.25" stroke-linejoin="round"/>
<polygon points="758.83,505.94 785.63,495.71 785.63,494.54 758.83,504.77" fill="#ffef00" stroke="#000" stroke-width="1.25" stroke-linejoin="round"/>
<polygon points="741.03,493.2 758.83,504.77 785.63,494.54 767.83,482.97" fill="#ffef00" stroke="#000" stroke-width="1.25" stroke-linejoin="round"/>
<polygon points="796.62,496.05 814.42,507.62 814.42,506.45 796.62,494.88" fill="#ff7000" stroke="#000" stroke-width="1.25" stroke-linejoin="round"/>
<polygon points="814.42,507.62 841.22,497.39 841.22,496.22 814.42,506.45" fill="#ff7000" stroke="#000" stroke-width="1.25" stroke-linejoin="round"/>
<polygon points="796.62,494.88 814.42,506.45 841.22,496.22 823.42,484.65" fill="#ff7000" stroke="#000" stroke-width="1.25" stroke-linejoin="round"/>
<polygon points="852.26,497.73 870.06,509.3 870.06,495.85 852.26,484.28" fill="#ef0000" stroke="#000" stroke-width="1" stroke-linejoin="round"/>
<polygon points="870.06,509.3 896.86,499.07 896.86,485.62 870.06,495.85" fill="#ef0000" stroke="#000" stroke-width="1" stroke-linejoin="round"/>
<polygon points="852.26,484.28 870.06,495.85 896.86,485.62 879.06,474.05" fill="#ef0000" stroke="#000" stroke-width="1" stroke-linejoin="round"/>
<polygon points="908,499.41 925.8,510.98 925.8,509.81 908,498.24" fill="#800000" stroke="#000" stroke-width="1.25" stroke-linejoin="round"/>
<polygon points="925.8,510.98 952.6,500.75 952.6,499.58 925.8,509.81" fill="#800000" stroke="#000" stroke-width="1.25" stroke-linejoin="round"/>
<polygon points="908,498.24 925.8,509.81 952.6,499.58 934.8,488.01" fill="#800000" stroke="#000" stroke-width="1.25" stroke-linejoin="round"/>
<polygon points="485.32,500.43 503.12,512 503.12,371.64 485.32,360.08" fill="#00008f" stroke="#000" stroke-width="1" stroke-linejoin="round"/>
<polygon points="503.12,512 529.92,501.77 529.92,361.42 503.12,371.64" fill="#00008f" stroke="#000" stroke-width="1" stroke-linejoin="round"/>
<polygon points="485.32,360.08 503.12,371.64 529.92,361.42 512.12,349.85" fill="#00008f" stroke="#000" stroke-width="1" stroke-linejoin="round"/>
<polygon points="540.91,502.11 558.71,513.68 558.71,512.51 540.91,500.94" fill="#0010ff" stroke="#000" stroke-width="1.25" stroke-linejoin="round"/>
<polygon points="558.71,513.68 585.51,503.45 585.51,502.28 558.71,512.51" fill="#0010ff" stroke="#000" stroke-width="1.25" stroke-linejoin="round"/>
<polygon points="540.91,500.94 558.71,512.51 585.51,502.28 567.71,490.71" fill="#0010ff" stroke="#000" stroke-width="1.25" stroke-linejoin="round"/>
<polygon points="596.5,503.79 614.3,515.36 614.3,514.19 596.5,502.62" fill="#008fff" stroke="#000" stroke-width="1.25" stroke-linejoin="round"/>
<polygon points="614.3,515.36 641.1,505.13 641.1,503.96 614.3,514.19" fill="#008fff" stroke="#000" stroke-width="1.25" stroke-linejoin="round"/>
<polygon points="596.5,502.62 614.3,514.19 641.1,503.96 623.3,492.39" fill="#008fff" stroke="#000" stroke-width="1.25" stroke-linejoin="round"/>
<polygon points="652.09,505.47 669.89,517.04 669.89,508.26 652.09,496.7" fill="#10ffef" stroke="#000" stroke-width="1" stroke-linejoin="round"/>
<polygon points="669.89,517.04 696.69,506.81 696.69,498.04 669.89,508.26" fill="#10ffef" stroke="#000" stroke-width="1" stroke-linejoin="round"/>
<polygon points="652.09,496.7 669.89,508.26 696.69,498.04 678.89,486.47" fill="#10ffef" stroke="#000" stroke-width="1" stroke-linejoin="round"/>
<polygon points="707.68,507.15 725.48,518.72 725.48,517.55 707.68,505.98" fill="#8fff70" stroke="#000" stroke-width="1.25" stroke-linejoin="round"/>
<polygon points="725.48,518.72 752.28,508.49 752.28,507.32 725.48,517.55" fill="#8fff70" stroke="#000" stroke-width="1.25" stroke-linejoin="round"/>
<polygon points="707.68,505.98 725.48,517.55 752.28,507.32 734.48,495.75" fill="#8fff70" stroke="#000" stroke-width="1.25" stroke-linejoin="round"/>
<polygon points="763.27,508.83 781.07,520.4 781.07,519.23 763.27,507.66" fill="#ffef00" stroke="#000" stroke-width="1.25" stroke-linejoin="round"/>
<polygon points="781.07,520.4 807.87,510.17 807.87,509 781.07,519.23" fill="#ffef00" stroke="#000" stroke-width="1.25" stroke-linejoin="round"/>
<polygon points="763.27,507.66 781.07,519.23 807.87,509 790.07,497.43" fill="#ffef00" stroke="#000" stroke-width="1.25" stroke-linejoin="round"/>
<polygon points="818.86,510.51 836.66,522.08 836.66,492.25 818.86,480.68" fill="#ff7000" stroke="#000" stroke-width="1" stroke-linejoin="round"/>
<polygon points="836.66,522.08 863.46,511.85 863.46,482.03 836.66,492.25" fill="#ff7000" stroke="#000" stroke-width="1" stroke-linejoin="round"/>
<polygon points="818.86,480.68 836.66,492.25 863.46,482.03 845.66,470.46" fill="#ff7000" stroke="#000" stroke-width="1" stroke-linejoin="round"/>
<polygon points="874.5,512.19 892.3,523.76 892.3,522.59 874.5,511.02" fill="#ef0000" stroke="#000" stroke-width="1.25" stroke-linejoin="round"/>
<polygon points="892.3,523.76 919.1,513.53 919.1,512.36 892.3,522.59" fill="#ef0000" stroke="#000" stroke-width="1.25" stroke-linejoin="round"/>
<polygon points="874.5,511.02 892.3,522.59 919.1,512.36 901.3,500.79" fill="#ef0000" stroke="#000" stroke-width="1.25" stroke-linejoin="round"/>
<polygon points="930.24,513.87 948.04,525.44 948.04,524.27 930.24,512.7" fill="#800000" stroke="#000" stroke-width="1.25" stroke-linejoin="round"/>
<polygon points="948.04,525.44 974.84,515.21 974.84,514.04 948.04,524.27" fill="#800000" stroke="#000" stroke-width="1.25" stroke-linejoin="round"/>
<polygon points="930.24,512.7 948.04,524.27 974.84,514.04 957.04,502.47" fill="#800000" stroke="#000" stroke-width="1.25" stroke-linejoin="round"/>
<polygon points="507.56,514.89 525.36,526.46 525.36,525.29 507.56,513.72" fill="#00008f" stroke="#000" stroke-width="1.25" stroke-linejoin="round"/>
<polygon points="525.36,526.46 552.16,516.23 552.16,515.06 525.36,525.29" fill="#00008f" stroke="#000" stroke-width="1.25" stroke-linejoin="round"/>
<polygon points="507.56,513.72 525.36,525.29 552.16,515.06 534.36,503.49" fill="#00008f" stroke="#000" stroke-width="1.25" stroke-linejoin="round"/>
<polygon points="563.15,516.57 580.95,528.14 580.95,526.97 563.15,515.4" fill="#0010ff" stroke="#000" stroke-width="1.25" stroke-linejoin="round"/>
<polygon points="580.95,528.14 607.75,517.91 607.75,516.74 580.95,526.97" fill="#0010ff" stroke="#000" stroke-width="1.25" stroke-linejoin="round"/>
<polygon points="563.15,515.4 580.95,526.97 607.75,516.74 589.95,505.17" fill="#0010ff" stroke="#000" stroke-width="1.25" stroke-linejoin="round"/>
<polygon points="618.74,518.25 636.54,529.82 636.54,519.87 618.74,508.31" fill="#008fff" stroke="#000" stroke-width="1" stroke-linejoin="round"/>
<polygon points="636.54,529.82 663.34,519.59 663.34,509.65 636.54,519.87" fill="#008fff" stroke="#000" stroke-width="1" stroke-linejoin="round"/>
<polygon points="618.74,508.31 636.54,519.87 663.34,509.65 645.54,498.08" fill="#008fff" stroke="#000" stroke-width="1" stroke-linejoin="round"/>
<polygon points="674.33,519.93 692.13,531.5 692.13,530.33 674.33,518.76" fill="#10ffef" stroke="#000" stroke-width="1.25" stroke-linejoin="round"/>
<polygon points="692.13,531.5 718.93,521.27 718.93,520.1 692.13,530.33" fill="#10ffef" stroke="#000" stroke-width="1.25" stroke-linejoin="round"/>
<polygon points="674.33,518.76 692.13,530.33 718.93,520.1 701.13,508.53" fill="#10ffef" stroke="#000" stroke-width="1.25" stroke-linejoin="round"/>
<polygon points="729.92,521.61 747.72,533.18 747.72,532.01 729.92,520.44" fill="#8fff70" stroke="#000" stroke-width="1.25" stroke-linejoin="round"/>
<polygon points="747.72,533.18 774.52,522.95 774.52,521.78 747.72,532.01" fill="#8fff70" stroke="#000" stroke-width="1.25" stroke-linejoin="round"/>
<polygon points="729.92,520.44 747.72,532.01 774.52,521.78 756.72,510.21" fill="#8fff70" stroke="#000" stroke-width="1.25" stroke-linejoin="round"/>
<polygon points="785.51,523.29 803.31,534.86 803.31,518.48 785.51,506.91" fill="#ffef00" stroke="#000" stroke-width="1" stroke-linejoin="round"/>
<polygon points="803.31,534.86 830.11,524.63 830.11,508.26 803.31,518.48" fill="#ffef00" stroke="#000" stroke-width="1" stroke-linejoin="round"/>
<polygon points="785.51,506.91 803.31,518.48 830.11,508.26 812.31,496.69" fill="#ffef00" stroke="#000" stroke-width="1" stroke-linejoin="round"/>
<polygon points="841.1,524.97 858.9,536.54 858.9,535.37 841.1,523.8" fill="#ff7000" stroke="#000" stroke-width="1.25" stroke-linejoin="round"/>
<polygon points="858.9,536.54 885.7,526.31 885.7,525.14 858.9,535.37" fill="#ff7000" stroke="#000" stroke-width="1.25" stroke-linejoin="round"/>
<polygon points="841.1,523.8 858.9,535.37 885.7,525.14 867.9,513.57" fill="#ff7000" stroke="#000" stroke-width="1.25" stroke-linejoin="round"/>
<polygon points="896.74,526.65 914.54,538.22 914.54,537.05 896.74,525.48" fill="#ef0000" stroke="#000" stroke-width="1.25" stroke-linejoin="round"/>
<polygon points="914.54,538.22 941.34,527.99 941.34,526.82 914.54,537.05" fill="#ef0000" stroke="#000" stroke-width="1.25" stroke-linejoin="round"/>
<polygon points="896.74,525.48 914.54,537.05 941.34,526.82 923.54,515.25" fill="#ef0000" stroke="#000" stroke-width="1.25" stroke-linejoin="round"/>
<polygon points="952.48,528.33 970.28,539.9 970.28,534.05 952.48,522.48" fill="#800000" stroke="#000" stroke-width="1" stroke-linejoin="round"/>
<polygon points="970.28,539.9 997.08,529.67 997.08,523.82 970.28,534.05" fill="#800000" stroke="#000" stroke-width="1" stroke-linejoin="round"/>
<polygon points="952.48,522.48 970.28,534.05 997.08,523.82 979.28,512.26" fill="#800000" stroke="#000" stroke-width="1" stroke-linejoin="round"/>
<polygon points="529.8,529.35 547.6,540.92 547.6,539.75 529.8,528.18" fill="#00008f" stroke="#000" stroke-width="1.25" stroke-linejoin="round"/>
<polygon points="547.6,540.92 574.4,530.69 574.4,529.52 547.6,539.75" fill="#00008f" stroke="#000" stroke-width="1.25" stroke-linejoin="round"/>
<polygon points="529.8,528.18 547.6,539.75 574.4,529.52 556.6,517.95" fill="#00008f" stroke="#000" stroke-width="1.25" stroke-linejoin="round"/>
<polygon points="585.39,531.03 603.19,542.6 603.19,532.65 585.39,521.09" fill="#0010ff" stroke="#000" stroke-width="1" stroke-linejoin="round"/>
<polygon points="603.19,542.6 629.99,532.37 629.99,522.43 603.19,532.65" fill="#0010ff" stroke="#000" stroke-width="1" stroke-linejoin="round"/>
<polygon points="585.39,521.09 603.19,532.65 629.99,522.43 612.19,510.86" fill="#0010ff" stroke="#000" stroke-width="1" stroke-linejoin="round"/>
<polygon points="640.98,532.71 658.78,544.28 658.78,543.11 640.98,531.54" fill="#008fff" stroke="#000" stroke-width="1.25" stroke-linejoin="round"/>
<polygon points="658.78,544.28 685.58,534.05 685.58,532.88 658.78,543.11" fill="#008fff" stroke="#000" stroke-width="1.25" stroke-linejoin="round"/>
<polygon points="640.98,531.54 658.78,543.11 685.58,532.88 667.78,521.31" fill="#008fff" stroke="#000" stroke-width="1.25" stroke-linejoin="round"/>
<polygon points="696.57,534.39 714.37,545.96 714.37,544.79 696.57,533.22" fill="#10ffef" stroke="#000" stroke-width="1.25" stroke-linejoin="round"/>
<polygon points="714.37,545.96 741.17,535.73 741.17,534.56 714.37,544.79" fill="#10ffef" stroke="#000" stroke-width="1.25" stroke-linejoin="round"/>
<polygon points="696.57,533.22 714.37,544.79 741.17,534.56 723.37,522.99" fill="#10ffef" stroke="#000" stroke-width="1.25" stroke-linejoin="round"/>
<polygon points="752.16,536.07 769.96,547.64 769.96,527.75 752.16,516.18" fill="#8fff70" stroke="#000" stroke-width="1" stroke-linejoin="round"/>
<polygon points="769.96,547.64 796.76,537.41 796.76,517.53 769.96,527.75" fill="#8fff70" stroke="#000" stroke-width="1" stroke-linejoin="round"/>
<polygon points="752.16,516.18 769.96,527.75 796.76,517.53 778.96,505.96" fill="#8fff70" stroke="#000" stroke-width="1" stroke-linejoin="round"/>
<polygon points="807.75,537.75 825.55,549.32 825.55,548.15 807.75,536.58" fill="#ffef00" stroke="#000" stroke-width="1.25" stroke-linejoin="round"/>
<polygon points="825.55,549.32 852.35,539.09 852.35,537.92 825.55,548.15" fill="#ffef00" stroke="#000" stroke-width="1.25" stroke-linejoin="round"/>
<polygon points="807.75,536.58 825.55,548.15 852.35,537.92 834.55,526.35" fill="#ffef00" stroke="#000" stroke-width="1.25" stroke-linejoin="round"/>
<polygon points="863.34,539.43 881.14,551 881.14,549.83 863.34,538.26" fill="#ff7000" stroke="#000" stroke-width="1.25" stroke-linejoin="round"/>
<polygon points="881.14,551 907.94,540.77 907.94,539.6 881.14,549.83" fill="#ff7000" stroke="#000" stroke-width="1.25" stroke-linejoin="round"/>
<polygon points="863.34,538.26 881.14,549.83 907.94,539.6 890.14,528.03" fill="#ff7000" stroke="#000" stroke-width="1.25" stroke-linejoin="round"/>
<polygon points="918.98,541.11 936.78,552.68 936.78,550.34 918.98,538.77" fill="#ef0000" stroke="#000" stroke-width="1.25" stroke-linejoin="round"/>
<polygon points="936.78,552.68 963.58,542.45 963.58,540.11 936.78,550.34" fill="#ef0000" stroke="#000" stroke-width="1.25" stroke-linejoin="round"/>
<polygon points="918.98,538.77 936.78,550.34 963.58,540.11 945.78,528.54" fill="#ef0000" stroke="#000" stroke-width="1.25" stroke-linejoin="round"/>
<polygon points="552.04,543.81 569.84,555.38 569.84,546.6 552.04,535.04" fill="#00008f" stroke="#000" stroke-width="1" stroke-linejoin="round"/>
<polygon points="569.84,555.38 596.64,545.15 596.64,536.38 569.84,546.6" fill="#00008f" stroke="#000" stroke-width="1" stroke-linejoin="round"/>
<polygon points="552.04,535.04 569.84,546.6 596.64,536.38 578.84,524.81" fill="#00008f" stroke="#000" stroke-width="1" stroke-linejoin="round"/>
<polygon points="607.63,545.49 625.43,557.06 625.43,555.89 607.63,544.32" fill="#0010ff" stroke="#000" stroke-width="1.25" stroke-linejoin="round"/>
<polygon points="625.43,557.06 652.23,546.83 652.23,545.66 625.43,555.89" fill="#0010ff" stroke="#000" stroke-width="1.25" stroke-linejoin="round"/>
<polygon points="607.63,544.32 625.43,555.89 652.23,545.66 634.43,534.09" fill="#0010ff" stroke="#000" stroke-width="1.25" stroke-linejoin="round"/>
<polygon points="663.22,547.17 681.02,558.74 681.02,557.57 663.22,546" fill="#008fff" stroke="#000" stroke-width="1.25" stroke-linejoin="round"/>
<polygon points="681.02,558.74 707.82,548.51 707.82,547.34 681.02,557.57" fill="#008fff" stroke="#000" stroke-width="1.25" stroke-linejoin="round"/>
<polygon points="663.22,546 681.02,557.57 707.82,547.34 690.02,535.77" fill="#008fff" stroke="#000" stroke-width="1.25" stroke-linejoin="round"/>
<polygon points="718.81,548.85 736.61,560.42 736.61,558.08 718.81,546.51" fill="#10ffef" stroke="#000" stroke-width="1.25" stroke-linejoin="round"/>
<polygon points="736.61,560.42 763.41,550.19 763.41,547.85 736.61,558.08" fill="#10ffef" stroke="#000" stroke-width="1.25" stroke-linejoin="round"/>
<polygon points="718.81,546.51 736.61,558.08 763.41,547.85 745.61,536.28" fill="#10ffef" stroke="#000" stroke-width="1.25" stroke-linejoin="round"/>
<polygon points="774.4,550.53 792.2,562.1 792.2,560.93 774.4,549.36" fill="#8fff70" stroke="#000" stroke-width="1.25" stroke-linejoin="round"/>
<polygon points="792.2,562.1 819,551.87 819,550.7 792.2,560.93" fill="#8fff70" stroke="#000" stroke-width="1.25" stroke-linejoin="round"/>
<polygon points="774.4,549.36 792.2,560.93 819,550.7 801.2,539.13" fill="#8fff70" stroke="#000" stroke-width="1.25" stroke-linejoin="round"/>
<polygon points="829.99,552.21 847.79,563.78 847.79,562.61 829.99,551.04" fill="#ffef00" stroke="#000" stroke-width="1.25" stroke-linejoin="round"/>
<polygon points="847.79,563.78 874.59,553.55 874.59,552.38 847.79,562.61" fill="#ffef00" stroke="#000" stroke-width="1.25" stroke-linejoin="round"/>
<polygon points="829.99,551.04 847.79,562.61 874.59,552.38 856.79,540.81" fill="#ffef00" stroke="#000" stroke-width="1.25" stroke-linejoin="round"/>
<polygon points="885.58,553.89 903.38,565.46 903.38,560.78 885.58,549.21" fill="#ff7000" stroke="#000" stroke-width="1" stroke-linejoin="round"/>
<polygon points="903.38,565.46 930.18,555.23 930.18,550.55 903.38,560.78" fill="#ff7000" stroke="#000" stroke-width="1" stroke-linejoin="round"/>
<polygon points="885.58,549.21 903.38,560.78 930.18,550.55 912.38,538.99" fill="#ff7000" stroke="#000" stroke-width="1" stroke-linejoin="round"/>
<polygon points="574.28,558.27 592.08,569.84 592.08,568.67 574.28,557.1" fill="#00008f" stroke="#000" stroke-width="1.25" stroke-linejoin="round"/>
<polygon points="592.08,569.84 618.88,559.61 618.88,558.44 592.08,568.67" fill="#00008f" stroke="#000" stroke-width="1.25" stroke-linejoin="round"/>
<polygon points="574.28,557.1 592.08,568.67 618.88,558.44 601.08,546.87" fill="#00008f" stroke="#000" stroke-width="1.25" stroke-linejoin="round"/>
<polygon points="629.87,559.95 647.67,571.52 647.67,570.35 629.87,558.78" fill="#0010ff" stroke="#000" stroke-width="1.25" stroke-linejoin="round"/>
<polygon points="647.67,571.52 674.47,561.29 674.47,560.12 647.67,570.35" fill="#0010ff" stroke="#000" stroke-width="1.25" stroke-linejoin="round"/>
<polygon points="629.87,558.78 647.67,570.35 674.47,560.12 656.67,548.55" fill="#0010ff" stroke="#000" stroke-width="1.25" stroke-linejoin="round"/>
<polygon points="685.46,561.63 703.26,573.2 703.26,570.86 685.46,559.29" fill="#008fff" stroke="#000" stroke-width="1.25" stroke-linejoin="round"/>
<polygon points="703.26,573.2 730.06,562.97 730.06,560.63 703.26,570.86" fill="#008fff" stroke="#000" stroke-width="1.25" stroke-linejoin="round"/>
<polygon points="685.46,559.29 703.26,570.86 730.06,560.63 712.26,549.06" fill="#008fff" stroke="#000" stroke-width="1.25" stroke-linejoin="round"/>
<polygon points="741.05,563.31 758.85,574.88 758.85,573.71 741.05,562.14" fill="#10ffef" stroke="#000" stroke-width="1.25" stroke-linejoin="round"/>
<polygon points="758.85,574.88 785.65,564.65 785.65,563.48 758.85,573.71" fill="#10ffef" stroke="#000" stroke-width="1.25" stroke-linejoin="round"/>
<polygon points="741.05,562.14 758.85,573.71 785.65,563.48 767.85,551.91" fill="#10ffef" stroke="#000" stroke-width="1.25" stroke-linejoin="round"/>
<polygon points="796.64,564.99 814.44,576.56 814.44,575.39 796.64,563.82" fill="#8fff70" stroke="#000" stroke-width="1.25" stroke-linejoin="round"/>
<polygon points="814.44,576.56 841.24,566.33 841.24,565.16 814.44,575.39" fill="#8fff70" stroke="#000" stroke-width="1.25" stroke-linejoin="round"/>
<polygon points="796.64,563.82 814.44,575.39 841.24,565.16 823.44,553.59" fill="#8fff70" stroke="#000" stroke-width="1.25" stroke-linejoin="round"/>
<polygon points="852.23,566.67 870.03,578.24 870.03,560.11 852.23,548.54" fill="#ffef00" stroke="#000" stroke-width="1" stroke-linejoin="round"/>
<polygon points="870.03,578.24 896.83,568.01 896.83,549.88 870.03,560.11" fill="#ffef00" stroke="#000" stroke-width="1" stroke-linejoin="round"/>
<polygon points="852.23,548.54 870.03,560.11 896.83,549.88 879.03,538.32" fill="#ffef00" stroke="#000" stroke-width="1" stroke-linejoin="round"/>
<polygon points="596.52,572.73 614.32,584.3 614.32,583.13 596.52,571.56" fill="#00008f" stroke="#000" stroke-width="1.25" stroke-linejoin="round"/>
<polygon points="614.32,584.3 641.12,574.07 641.12,572.9 614.32,583.13" fill="#00008f" stroke="#000" stroke-width="1.25" stroke-linejoin="round"/>
<polygon points="596.52,571.56 614.32,583.13 641.12,572.9 623.32,561.33" fill="#00008f" stroke="#000" stroke-width="1.25" stroke-linejoin="round"/>
<polygon points="652.11,574.41 669.91,585.98 669.91,584.81 652.11,573.24" fill="#0010ff" stroke="#000" stroke-width="1.25" stroke-linejoin="round"/>
<polygon points="669.91,585.98 696.71,575.75 696.71,574.58 669.91,584.81" fill="#0010ff" stroke="#000" stroke-width="1.25" stroke-linejoin="round"/>
<polygon points="652.11,573.24 669.91,584.81 696.71,574.58 678.91,563.01" fill="#0010ff" stroke="#000" stroke-width="1.25" stroke-linejoin="round"/>
<polygon points="707.7,576.09 725.5,587.66 725.5,586.49 707.7,574.92" fill="#008fff" stroke="#000" stroke-width="1.25" stroke-linejoin="round"/>
<polygon points="725.5,587.66 752.3,577.43 752.3,576.26 725.5,586.49" fill="#008fff" stroke="#000" stroke-width="1.25" stroke-linejoin="round"/>
<polygon points="707.7,574.92 725.5,586.49 752.3,576.26 734.5,564.69" fill="#008fff" stroke="#000" stroke-width="1.25" stroke-linejoin="round"/>
<polygon points="763.29,577.77 781.09,589.34 781.09,588.17 763.29,576.6" fill="#10ffef" stroke="#000" stroke-width="1.25" stroke-linejoin="round"/>
<polygon points="781.09,589.34 807.89,579.11 807.89,577.94 781.09,588.17" fill="#10ffef" stroke="#000" stroke-width="1.25" stroke-linejoin="round"/>
<polygon points="763.29,576.6 781.09,588.17 807.89,577.94 790.09,566.37" fill="#10ffef" stroke="#000" stroke-width="1.25" stroke-linejoin="round"/>
<polygon points="818.88,579.45 836.68,591.02 836.68,568.21 818.88,556.64" fill="#8fff70" stroke="#000" stroke-width="1" stroke-linejoin="round"/>
<polygon points="836.68,591.02 863.48,580.79 863.48,557.98 836.68,568.21" fill="#8fff70" stroke="#000" stroke-width="1" stroke-linejoin="round"/>
<polygon points="818.88,556.64 836.68,568.21 863.48,557.98 845.68,546.42" fill="#8fff70" stroke="#000" stroke-width="1" stroke-linejoin="round"/>
<polygon points="618.76,587.19 636.56,598.76 636.56,597.59 618.76,586.02" fill="#00008f" stroke="#000" stroke-width="1.25" stroke-linejoin="round"/>
<polygon points="636.56,598.76 663.36,588.53 663.36,587.36 636.56,597.59" fill="#00008f" stroke="#000" stroke-width="1.25" stroke-linejoin="round"/>
<polygon points="618.76,586.02 636.56,597.59 663.36,587.36 645.56,575.79" fill="#00008f" stroke="#000" stroke-width="1.25" stroke-linejoin="round"/>
<polygon points="674.35,588.87 692.15,600.44 692.15,599.27 674.35,587.7" fill="#0010ff" stroke="#000" stroke-width="1.25" stroke-linejoin="round"/>
<polygon points="692.15,600.44 718.95,590.21 718.95,589.04 692.15,599.27" fill="#0010ff" stroke="#000" stroke-width="1.25" stroke-linejoin="round"/>
<polygon points="674.35,587.7 692.15,599.27 718.95,589.04 701.15,577.47" fill="#0010ff" stroke="#000" stroke-width="1.25" stroke-linejoin="round"/>
<polygon points="729.94,590.55 747.74,602.12 747.74,600.95 729.94,589.38" fill="#008fff" stroke="#000" stroke-width="1.25" stroke-linejoin="round"/>
<polygon points="747.74,602.12 774.54,591.89 774.54,590.72 747.74,600.95" fill="#008fff" stroke="#000" stroke-width="1.25" stroke-linejoin="round"/>
<polygon points="729.94,589.38 747.74,600.95 774.54,590.72 756.74,579.15" fill="#008fff" stroke="#000" stroke-width="1.25" stroke-linejoin="round"/>
<polygon points="785.53,592.23 803.33,603.8 803.33,602.63 785.53,591.06" fill="#10ffef" stroke="#000" stroke-width="1.25" stroke-linejoin="round"/>
<polygon points="803.33,603.8 830.13,593.57 830.13,592.4 803.33,602.63" fill="#10ffef" stroke="#000" stroke-width="1.25" stroke-linejoin="round"/>
<polygon points="785.53,591.06 803.33,602.63 830.13,592.4 812.33,580.83" fill="#10ffef" stroke="#000" stroke-width="1.25" stroke-linejoin="round"/>
<polygon points="641,601.65 658.8,613.22 658.8,612.05 641,600.48" fill="#00008f" stroke="#000" stroke-width="1.25" stroke-linejoin="round"/>
<polygon points="658.8,613.22 685.6,602.99 685.6,601.82 658.8,612.05" fill="#00008f" stroke="#000" stroke-width="1.25" stroke-linejoin="round"/>
<polygon points="641,600.48 658.8,612.05 685.6,601.82 667.8,590.25" fill="#00008f" stroke="#000" stroke-width="1.25" stroke-linejoin="round"/>
<polygon points="696.59,603.33 714.39,614.9 714.39,613.73 696.59,602.16" fill="#0010ff" stroke="#000" stroke-width="1.25" stroke-linejoin="round"/>
<polygon points="714.39,614.9 741.19,604.67 741.19,603.5 714.39,613.73" fill="#0010ff" stroke="#000" stroke-width="1.25" stroke-linejoin="round"/>
<polygon points="696.59,602.16 714.39,613.73 741.19,603.5 723.39,591.93" fill="#0010ff" stroke="#000" stroke-width="1.25" stroke-linejoin="round"/>
<polygon points="752.18,605.01 769.98,616.58 769.98,615.41 752.18,603.84" fill="#008fff" stroke="#000" stroke-width="1.25" stroke-linejoin="round"/>
<polygon points="769.98,616.58 796.78,606.35 796.78,605.18 769.98,615.41" fill="#008fff" stroke="#000" stroke-width="1.25" stroke-linejoin="round"/>
<polygon points="752.18,603.84 769.98,615.41 796.78,605.18 778.98,593.61" fill="#008fff" stroke="#000" stroke-width="1.25" stroke-linejoin="round"/>
<polygon points="663.24,616.11 681.04,627.68 681.04,626.51 663.24,614.94" fill="#00008f" stroke="#000" stroke-width="1.25" stroke-linejoin="round"/>
<polygon points="681.04,627.68 707.84,617.45 707.84,616.28 681.04,626.51" fill="#00008f" stroke="#000" stroke-width="1.25" stroke-linejoin="round"/>
<polygon points="663.24,614.94 681.04,626.51 707.84,616.28 690.04,604.71" fill="#00008f" stroke="#000" stroke-width="1.25" stroke-linejoin="round"/>
<polygon points="718.83,617.79 736.63,629.36 736.63,628.19 718.83,616.62" fill="#0010ff" stroke="#000" stroke-width="1.25" stroke-linejoin="round"/>
<polygon points="736.63,629.36 763.43,619.13 763.43,617.96 736.63,628.19" fill="#0010ff" stroke="#000" stroke-width="1.25" stroke-linejoin="round"/>
<polygon points="718.83,616.62 736.63,628.19 763.43,617.96 745.63,606.39" fill="#0010ff" stroke="#000" stroke-width="1.25" stroke-linejoin="round"/>
<polygon points="685.48,630.57 703.28,642.14 703.28,640.97 685.48,629.4" fill="#00008f" stroke="#000" stroke-width="1.25" stroke-linejoin="round"/>
<polygon points="703.28,642.14 730.08,631.91 730.08,630.74 703.28,640.97" fill="#00008f" stroke="#000" stroke-width="1.25" stroke-linejoin="round"/>
<polygon points="685.48,629.4 703.28,640.97 730.08,630.74 712.28,619.17" fill="#00008f" stroke="#000" stroke-width="1.25" stroke-linejoin="round"/>
<path d="M427.5,462.45L427.5,170.05M427.5,462.45L761.11,679.35M761.11,679.35L1053.89,567.65M427.5,462.45L420.21,457.71M427.5,403.97L420.21,399.23M427.5,345.49L420.21,340.75M427.5,287.01L420.21,282.27M427.5,228.53L420.21,223.79M427.5,170.05L420.21,165.31M449.75,476.91L441.62,480.01M471.99,491.37L463.86,494.47M494.23,505.83L486.1,508.93M516.47,520.29L508.34,523.39M538.7,534.75L530.58,537.85M560.94,549.21L552.82,552.31M583.18,563.67L575.06,566.77M605.42,578.13L597.3,581.23M627.66,592.59L619.54,595.69M649.9,607.05L641.78,610.15M672.14,621.51L664.02,624.61M694.38,635.97L686.26,639.07M773.5,674.62L780.79,679.36M807,661.84L814.29,666.58M840.5,649.06L847.79,653.8M874,636.28L881.29,641.02M907.5,623.5L914.79,628.24M941,610.72L948.29,615.46M974.5,597.94L981.79,602.68M1008,585.16L1015.29,589.9M1041.5,572.38L1048.79,577.12" stroke="#000" stroke-width="1" fill="none"/>
<g font-family="'Liberation Sans', sans-serif" font-weight="bold" font-size="19" fill="#000"><text x="789.5" y="698.3" text-anchor="middle" >2</text><text x="823" y="684.1" text-anchor="middle" >4</text><text x="856.7" y="671.1" text-anchor="middle" >6</text><text x="891.5" y="657.1" text-anchor="middle" >8</text><text x="924.7" y="644.3" text-anchor="middle" >10</text><text x="957.7" y="633.3" text-anchor="middle" >12</text><text x="991.3" y="619.3" text-anchor="middle" >14</text><text x="1022.5" y="608.7" text-anchor="middle" >16</text><text x="1055.2" y="594.3" text-anchor="middle" >18</text><text x="429.5" y="506.9" text-anchor="middle" >1</text><text x="453.1" y="521.3" text-anchor="middle" >2</text><text x="474.9" y="536.1" text-anchor="middle" >3</text><text x="496.8" y="550.5" text-anchor="middle" >4</text><text x="519.5" y="565.3" text-anchor="middle" >5</text><text x="541.9" y="579.1" text-anchor="middle" >6</text><text x="564.7" y="593.9" text-anchor="middle" >7</text><text x="586.5" y="608.3" text-anchor="middle" >8</text><text x="607.9" y="621.9" text-anchor="middle" >9</text><text x="625.8" y="637.5" text-anchor="middle" >10</text><text x="648.3" y="650.7" text-anchor="middle" >11</text><text x="670.9" y="666.1" text-anchor="middle" >12</text><text x="410.7" y="466.1" text-anchor="middle" >0</text><text x="402.9" y="406.1" text-anchor="middle" >0.1</text><text x="402.9" y="348.5" text-anchor="middle" >0.2</text><text x="402.9" y="288.7" text-anchor="middle" >0.3</text><text x="402.5" y="231.1" text-anchor="middle" >0.4</text><text x="402.5" y="171.7" text-anchor="middle" >0.5</text><text x="470.3" y="627.7" text-anchor="middle" >harmonic number</text><text x="978.7" y="687.9" text-anchor="middle" >wind speed (m/s)</text><text x="0" y="0" text-anchor="middle" transform="translate(380.75,317.95) rotate(-90)">modC/mean(signal)</text></g>
</svg>
</body></html>
